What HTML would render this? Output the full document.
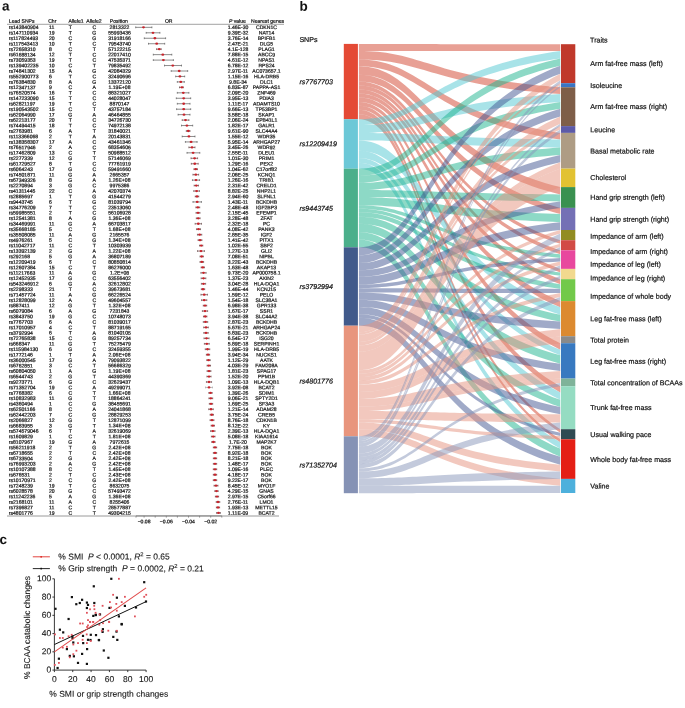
<!DOCTYPE html><html><head><meta charset="utf-8"><style>html,body{margin:0;padding:0;background:#fff;}svg{display:block;will-change:transform}text{font-family:"Liberation Sans", sans-serif;text-rendering:geometricPrecision;}</style></head><body>
<svg width="685" height="708" viewBox="0 0 685 708">
<rect width="685" height="708" fill="#fff"/>
<line x1="7" y1="24.3" x2="284" y2="24.3" stroke="#8a8a8a" stroke-width="0.8"/>
<line x1="7" y1="516.0" x2="279" y2="516.0" stroke="#9a9a9a" stroke-width="1"/>
<line x1="136" y1="515.9" x2="221.8" y2="515.9" stroke="#777" stroke-width="0.8"/>
<line x1="136.00" y1="515.9" x2="136.00" y2="517.7" stroke="#666" stroke-width="0.6"/>
<line x1="221.80" y1="515.9" x2="221.80" y2="517.7" stroke="#666" stroke-width="0.6"/>
<line x1="210.70" y1="515.9" x2="210.70" y2="517.7" stroke="#666" stroke-width="0.6"/>
<line x1="199.60" y1="515.9" x2="199.60" y2="517.7" stroke="#666" stroke-width="0.6"/>
<line x1="188.50" y1="515.9" x2="188.50" y2="517.7" stroke="#666" stroke-width="0.6"/>
<line x1="177.40" y1="515.9" x2="177.40" y2="517.7" stroke="#666" stroke-width="0.6"/>
<line x1="166.30" y1="515.9" x2="166.30" y2="517.7" stroke="#666" stroke-width="0.6"/>
<line x1="155.20" y1="515.9" x2="155.20" y2="517.7" stroke="#666" stroke-width="0.6"/>
<line x1="144.10" y1="515.9" x2="144.10" y2="517.7" stroke="#666" stroke-width="0.6"/>
<g>
<path d="M135.70,27.35H151.90M135.70,26.45V28.25M151.90,26.45V28.25" stroke="#4d4d4d" stroke-width="0.65" fill="none"/>
<ellipse cx="143.50" cy="27.35" rx="1.45" ry="1.15" fill="#c8232b"/>
<path d="M146.20,32.81H159.90M146.20,31.91V33.71M159.90,31.91V33.71" stroke="#4d4d4d" stroke-width="0.65" fill="none"/>
<ellipse cx="153.00" cy="32.81" rx="1.45" ry="1.15" fill="#c8232b"/>
<path d="M144.30,38.26H165.60M144.30,37.36V39.16M165.60,37.36V39.16" stroke="#4d4d4d" stroke-width="0.65" fill="none"/>
<ellipse cx="154.90" cy="38.26" rx="1.45" ry="1.15" fill="#c8232b"/>
<path d="M148.50,43.72H164.70M148.50,42.82V44.62M164.70,42.82V44.62" stroke="#4d4d4d" stroke-width="0.65" fill="none"/>
<ellipse cx="156.70" cy="43.72" rx="1.45" ry="1.15" fill="#c8232b"/>
<path d="M156.60,49.17H161.20M156.60,48.27V50.07M161.20,48.27V50.07" stroke="#5a3838" stroke-width="0.65" fill="none"/>
<ellipse cx="159.20" cy="49.17" rx="1.45" ry="1.15" fill="#c8232b"/>
<path d="M153.30,54.63H171.80M153.30,53.73V55.53M171.80,53.73V55.53" stroke="#4d4d4d" stroke-width="0.65" fill="none"/>
<ellipse cx="162.80" cy="54.63" rx="1.45" ry="1.15" fill="#c8232b"/>
<path d="M153.30,60.09H173.40M153.30,59.19V60.99M173.40,59.19V60.99" stroke="#4d4d4d" stroke-width="0.65" fill="none"/>
<ellipse cx="163.40" cy="60.09" rx="1.45" ry="1.15" fill="#c8232b"/>
<path d="M164.50,65.54H181.50M164.50,64.64V66.44M181.50,64.64V66.44" stroke="#4d4d4d" stroke-width="0.65" fill="none"/>
<ellipse cx="172.80" cy="65.54" rx="1.45" ry="1.15" fill="#c8232b"/>
<path d="M171.20,71.00H187.70M171.20,70.10V71.90M187.70,70.10V71.90" stroke="#4d4d4d" stroke-width="0.65" fill="none"/>
<ellipse cx="179.20" cy="71.00" rx="1.45" ry="1.15" fill="#c8232b"/>
<path d="M175.70,76.45H184.70M175.70,75.55V77.35M184.70,75.55V77.35" stroke="#4d4d4d" stroke-width="0.65" fill="none"/>
<ellipse cx="179.90" cy="76.45" rx="1.45" ry="1.15" fill="#c8232b"/>
<path d="M177.30,81.91H184.30M177.30,81.01V82.81M184.30,81.01V82.81" stroke="#4d4d4d" stroke-width="0.65" fill="none"/>
<ellipse cx="180.80" cy="81.91" rx="1.45" ry="1.15" fill="#c8232b"/>
<path d="M179.50,87.37H183.30M179.50,86.47V88.27M183.30,86.47V88.27" stroke="#5a3838" stroke-width="0.65" fill="none"/>
<ellipse cx="181.90" cy="87.37" rx="1.45" ry="1.15" fill="#c8232b"/>
<path d="M177.30,92.82H188.90M177.30,91.92V93.72M188.90,91.92V93.72" stroke="#4d4d4d" stroke-width="0.65" fill="none"/>
<ellipse cx="183.30" cy="92.82" rx="1.45" ry="1.15" fill="#c8232b"/>
<path d="M176.30,98.28H190.70M176.30,97.38V99.18M190.70,97.38V99.18" stroke="#4d4d4d" stroke-width="0.65" fill="none"/>
<ellipse cx="183.70" cy="98.28" rx="1.45" ry="1.15" fill="#c8232b"/>
<path d="M177.30,103.73H190.00M177.30,102.83V104.63M190.00,102.83V104.63" stroke="#4d4d4d" stroke-width="0.65" fill="none"/>
<ellipse cx="183.70" cy="103.73" rx="1.45" ry="1.15" fill="#c8232b"/>
<path d="M176.60,109.19H190.70M176.60,108.29V110.09M190.70,108.29V110.09" stroke="#4d4d4d" stroke-width="0.65" fill="none"/>
<ellipse cx="183.70" cy="109.19" rx="1.45" ry="1.15" fill="#c8232b"/>
<path d="M178.10,114.65H190.00M178.10,113.75V115.55M190.00,113.75V115.55" stroke="#4d4d4d" stroke-width="0.65" fill="none"/>
<ellipse cx="184.00" cy="114.65" rx="1.45" ry="1.15" fill="#c8232b"/>
<path d="M182.20,120.10H188.90M182.20,119.20V121.00M188.90,119.20V121.00" stroke="#5a3838" stroke-width="0.65" fill="none"/>
<ellipse cx="185.50" cy="120.10" rx="1.45" ry="1.15" fill="#c8232b"/>
<path d="M181.50,125.56H192.70M181.50,124.66V126.46M192.70,124.66V126.46" stroke="#4d4d4d" stroke-width="0.65" fill="none"/>
<ellipse cx="186.90" cy="125.56" rx="1.45" ry="1.15" fill="#c8232b"/>
<path d="M186.30,131.01H190.00M186.30,130.11V131.91M190.00,130.11V131.91" stroke="#5a3838" stroke-width="0.65" fill="none"/>
<ellipse cx="188.30" cy="131.01" rx="1.45" ry="1.15" fill="#c8232b"/>
<path d="M182.20,136.47H195.00M182.20,135.57V137.37M195.00,135.57V137.37" stroke="#4d4d4d" stroke-width="0.65" fill="none"/>
<ellipse cx="188.90" cy="136.47" rx="1.45" ry="1.15" fill="#c8232b"/>
<path d="M185.40,141.93H197.10M185.40,141.03V142.83M197.10,141.03V142.83" stroke="#4d4d4d" stroke-width="0.65" fill="none"/>
<ellipse cx="191.10" cy="141.93" rx="1.45" ry="1.15" fill="#c8232b"/>
<path d="M188.90,147.38H195.00M188.90,146.48V148.28M195.00,146.48V148.28" stroke="#5a3838" stroke-width="0.65" fill="none"/>
<ellipse cx="192.00" cy="147.38" rx="1.45" ry="1.15" fill="#c8232b"/>
<path d="M187.00,152.84H199.80M187.00,151.94V153.74M199.80,151.94V153.74" stroke="#4d4d4d" stroke-width="0.65" fill="none"/>
<ellipse cx="193.10" cy="152.84" rx="1.45" ry="1.15" fill="#c8232b"/>
<path d="M191.00,158.29H197.60M191.00,157.39V159.19M197.60,157.39V159.19" stroke="#5a3838" stroke-width="0.65" fill="none"/>
<ellipse cx="194.60" cy="158.29" rx="1.45" ry="1.15" fill="#c8232b"/>
<path d="M191.30,163.75H198.20M191.30,162.85V164.65M198.20,162.85V164.65" stroke="#5a3838" stroke-width="0.65" fill="none"/>
<ellipse cx="194.80" cy="163.75" rx="1.45" ry="1.15" fill="#c8232b"/>
<path d="M193.92,169.21H197.48M193.92,168.31V170.11M197.48,168.31V170.11" stroke="#5a3838" stroke-width="0.65" fill="none"/>
<ellipse cx="195.70" cy="169.21" rx="1.45" ry="1.15" fill="#c8232b"/>
<path d="M192.95,174.66H198.65M192.95,173.76V175.56M198.65,173.76V175.56" stroke="#5a3838" stroke-width="0.65" fill="none"/>
<ellipse cx="195.80" cy="174.66" rx="1.45" ry="1.15" fill="#c8232b"/>
<path d="M192.43,180.12H199.57M192.43,179.22V181.02M199.57,179.22V181.02" stroke="#4d4d4d" stroke-width="0.65" fill="none"/>
<ellipse cx="196.00" cy="180.12" rx="1.45" ry="1.15" fill="#c8232b"/>
<path d="M194.15,185.57H198.45M194.15,184.67V186.47M198.45,184.67V186.47" stroke="#5a3838" stroke-width="0.65" fill="none"/>
<ellipse cx="196.30" cy="185.57" rx="1.45" ry="1.15" fill="#c8232b"/>
<path d="M193.77,191.03H199.43M193.77,190.13V191.93M199.43,190.13V191.93" stroke="#5a3838" stroke-width="0.65" fill="none"/>
<ellipse cx="196.60" cy="191.03" rx="1.45" ry="1.15" fill="#c8232b"/>
<path d="M195.25,196.49H198.75M195.25,195.59V197.39M198.75,195.59V197.39" stroke="#5a3838" stroke-width="0.65" fill="none"/>
<ellipse cx="197.00" cy="196.49" rx="1.45" ry="1.15" fill="#c8232b"/>
<path d="M192.97,201.94H201.43M192.97,201.04V202.84M201.43,201.04V202.84" stroke="#4d4d4d" stroke-width="0.65" fill="none"/>
<ellipse cx="197.20" cy="201.94" rx="1.45" ry="1.15" fill="#c8232b"/>
<path d="M195.88,207.40H199.72M195.88,206.50V208.30M199.72,206.50V208.30" stroke="#5a3838" stroke-width="0.65" fill="none"/>
<ellipse cx="197.80" cy="207.40" rx="1.45" ry="1.15" fill="#c8232b"/>
<path d="M196.03,212.85H199.97M196.03,211.95V213.75M199.97,211.95V213.75" stroke="#5a3838" stroke-width="0.65" fill="none"/>
<ellipse cx="198.00" cy="212.85" rx="1.45" ry="1.15" fill="#c8232b"/>
<path d="M196.30,218.31H200.10M196.30,217.41V219.21M200.10,217.41V219.21" stroke="#5a3838" stroke-width="0.65" fill="none"/>
<ellipse cx="198.20" cy="218.31" rx="1.45" ry="1.15" fill="#c8232b"/>
<path d="M195.13,223.77H201.47M195.13,222.87V224.67M201.47,222.87V224.67" stroke="#5a3838" stroke-width="0.65" fill="none"/>
<ellipse cx="198.30" cy="223.77" rx="1.45" ry="1.15" fill="#c8232b"/>
<path d="M196.48,229.22H200.52M196.48,228.32V230.12M200.52,228.32V230.12" stroke="#5a3838" stroke-width="0.65" fill="none"/>
<ellipse cx="198.50" cy="229.22" rx="1.45" ry="1.15" fill="#c8232b"/>
<path d="M197.45,234.68H201.75M197.45,233.78V235.58M201.75,233.78V235.58" stroke="#5a3838" stroke-width="0.65" fill="none"/>
<ellipse cx="199.60" cy="234.68" rx="1.45" ry="1.15" fill="#c8232b"/>
<path d="M198.08,240.13H201.92M198.08,239.23V241.03M201.92,239.23V241.03" stroke="#5a3838" stroke-width="0.65" fill="none"/>
<ellipse cx="200.00" cy="240.13" rx="1.45" ry="1.15" fill="#c8232b"/>
<path d="M199.59,245.59H202.81M199.59,244.69V246.49M202.81,244.69V246.49" stroke="#5a3838" stroke-width="0.65" fill="none"/>
<ellipse cx="201.20" cy="245.59" rx="1.45" ry="1.15" fill="#c8232b"/>
<path d="M197.56,251.05H204.44M197.56,250.15V251.95M204.44,250.15V251.95" stroke="#5a3838" stroke-width="0.65" fill="none"/>
<ellipse cx="201.00" cy="251.05" rx="1.45" ry="1.15" fill="#c8232b"/>
<path d="M200.04,256.50H203.36M200.04,255.60V257.40M203.36,255.60V257.40" stroke="#5a3838" stroke-width="0.65" fill="none"/>
<ellipse cx="201.70" cy="256.50" rx="1.45" ry="1.15" fill="#c8232b"/>
<path d="M199.99,261.96H203.61M199.99,261.06V262.86M203.61,261.06V262.86" stroke="#5a3838" stroke-width="0.65" fill="none"/>
<ellipse cx="201.80" cy="261.96" rx="1.45" ry="1.15" fill="#c8232b"/>
<path d="M201.15,267.41H204.45M201.15,266.51V268.31M204.45,266.51V268.31" stroke="#5a3838" stroke-width="0.65" fill="none"/>
<ellipse cx="202.80" cy="267.41" rx="1.45" ry="1.15" fill="#c8232b"/>
<path d="M200.91,272.87H206.09M200.91,271.97V273.77M206.09,271.97V273.77" stroke="#5a3838" stroke-width="0.65" fill="none"/>
<ellipse cx="203.50" cy="272.87" rx="1.45" ry="1.15" fill="#c8232b"/>
<path d="M201.15,278.33H205.85M201.15,277.43V279.23M205.85,277.43V279.23" stroke="#5a3838" stroke-width="0.65" fill="none"/>
<ellipse cx="203.50" cy="278.33" rx="1.45" ry="1.15" fill="#c8232b"/>
<path d="M201.37,283.78H205.63M201.37,282.88V284.68M205.63,282.88V284.68" stroke="#5a3838" stroke-width="0.65" fill="none"/>
<ellipse cx="203.50" cy="283.78" rx="1.45" ry="1.15" fill="#c8232b"/>
<path d="M201.29,289.24H204.71M201.29,288.34V290.14M204.71,288.34V290.14" stroke="#5a3838" stroke-width="0.65" fill="none"/>
<ellipse cx="203.00" cy="289.24" rx="1.45" ry="1.15" fill="#c8232b"/>
<path d="M200.95,294.69H207.45M200.95,293.79V295.59M207.45,293.79V295.59" stroke="#5a3838" stroke-width="0.65" fill="none"/>
<ellipse cx="204.20" cy="294.69" rx="1.45" ry="1.15" fill="#c8232b"/>
<path d="M201.59,300.15H206.81M201.59,299.25V301.05M206.81,299.25V301.05" stroke="#5a3838" stroke-width="0.65" fill="none"/>
<ellipse cx="204.20" cy="300.15" rx="1.45" ry="1.15" fill="#c8232b"/>
<path d="M203.27,305.61H206.73M203.27,304.71V306.51M206.73,304.71V306.51" stroke="#5a3838" stroke-width="0.65" fill="none"/>
<ellipse cx="205.00" cy="305.61" rx="1.45" ry="1.15" fill="#c8232b"/>
<path d="M202.38,311.06H207.62M202.38,310.16V311.96M207.62,310.16V311.96" stroke="#5a3838" stroke-width="0.65" fill="none"/>
<ellipse cx="205.00" cy="311.06" rx="1.45" ry="1.15" fill="#c8232b"/>
<path d="M203.48,316.52H206.92M203.48,315.62V317.42M206.92,315.62V317.42" stroke="#5a3838" stroke-width="0.65" fill="none"/>
<ellipse cx="205.20" cy="316.52" rx="1.45" ry="1.15" fill="#c8232b"/>
<path d="M203.29,321.97H207.71M203.29,321.07V322.87M207.71,321.07V322.87" stroke="#5a3838" stroke-width="0.65" fill="none"/>
<ellipse cx="205.50" cy="321.97" rx="1.45" ry="1.15" fill="#c8232b"/>
<path d="M203.71,327.43H208.29M203.71,326.53V328.33M208.29,326.53V328.33" stroke="#5a3838" stroke-width="0.65" fill="none"/>
<ellipse cx="206.00" cy="327.43" rx="1.45" ry="1.15" fill="#c8232b"/>
<path d="M203.82,332.89H208.18M203.82,331.99V333.79M208.18,331.99V333.79" stroke="#5a3838" stroke-width="0.65" fill="none"/>
<ellipse cx="206.00" cy="332.89" rx="1.45" ry="1.15" fill="#c8232b"/>
<path d="M203.97,338.34H209.03M203.97,337.44V339.24M209.03,337.44V339.24" stroke="#5a3838" stroke-width="0.65" fill="none"/>
<ellipse cx="206.50" cy="338.34" rx="1.45" ry="1.15" fill="#c8232b"/>
<path d="M204.38,343.80H209.22M204.38,342.90V344.70M209.22,342.90V344.70" stroke="#5a3838" stroke-width="0.65" fill="none"/>
<ellipse cx="206.80" cy="343.80" rx="1.45" ry="1.15" fill="#c8232b"/>
<path d="M205.25,349.25H209.75M205.25,348.35V350.15M209.75,348.35V350.15" stroke="#5a3838" stroke-width="0.65" fill="none"/>
<ellipse cx="207.50" cy="349.25" rx="1.45" ry="1.15" fill="#c8232b"/>
<path d="M206.36,354.71H209.64M206.36,353.81V355.61M209.64,353.81V355.61" stroke="#5a3838" stroke-width="0.65" fill="none"/>
<ellipse cx="208.00" cy="354.71" rx="1.45" ry="1.15" fill="#c8232b"/>
<path d="M206.77,360.17H210.23M206.77,359.27V361.07M210.23,359.27V361.07" stroke="#5a3838" stroke-width="0.65" fill="none"/>
<ellipse cx="208.50" cy="360.17" rx="1.45" ry="1.15" fill="#c8232b"/>
<path d="M207.08,365.62H210.52M207.08,364.72V366.52M210.52,364.72V366.52" stroke="#5a3838" stroke-width="0.65" fill="none"/>
<ellipse cx="208.80" cy="365.62" rx="1.45" ry="1.15" fill="#c8232b"/>
<path d="M207.08,371.08H210.92M207.08,370.18V371.98M210.92,370.18V371.98" stroke="#5a3838" stroke-width="0.65" fill="none"/>
<ellipse cx="209.00" cy="371.08" rx="1.45" ry="1.15" fill="#c8232b"/>
<path d="M206.94,376.53H211.06M206.94,375.63V377.43M211.06,375.63V377.43" stroke="#5a3838" stroke-width="0.65" fill="none"/>
<ellipse cx="209.00" cy="376.53" rx="1.45" ry="1.15" fill="#c8232b"/>
<path d="M206.43,381.99H211.57M206.43,381.09V382.89M211.57,381.09V382.89" stroke="#5a3838" stroke-width="0.65" fill="none"/>
<ellipse cx="209.00" cy="381.99" rx="1.45" ry="1.15" fill="#c8232b"/>
<path d="M205.52,387.45H212.48M205.52,386.55V388.35M212.48,386.55V388.35" stroke="#9a9a9a" stroke-width="0.65" fill="none"/>
<ellipse cx="209.00" cy="387.45" rx="1.45" ry="1.15" fill="#c8232b"/>
<path d="M208.82,392.90H212.18M208.82,392.00V393.80M212.18,392.00V393.80" stroke="#5a3838" stroke-width="0.65" fill="none"/>
<ellipse cx="210.50" cy="392.90" rx="1.45" ry="1.15" fill="#c8232b"/>
<path d="M208.91,398.36H212.69M208.91,397.46V399.26M212.69,397.46V399.26" stroke="#5a3838" stroke-width="0.65" fill="none"/>
<ellipse cx="210.80" cy="398.36" rx="1.45" ry="1.15" fill="#c8232b"/>
<path d="M209.32,403.81H212.68M209.32,402.91V404.71M212.68,402.91V404.71" stroke="#5a3838" stroke-width="0.65" fill="none"/>
<ellipse cx="211.00" cy="403.81" rx="1.45" ry="1.15" fill="#c8232b"/>
<path d="M208.73,409.27H213.27M208.73,408.37V410.17M213.27,408.37V410.17" stroke="#5a3838" stroke-width="0.65" fill="none"/>
<ellipse cx="211.00" cy="409.27" rx="1.45" ry="1.15" fill="#c8232b"/>
<path d="M210.13,414.73H213.47M210.13,413.83V415.63M213.47,413.83V415.63" stroke="#5a3838" stroke-width="0.65" fill="none"/>
<ellipse cx="211.80" cy="414.73" rx="1.45" ry="1.15" fill="#c8232b"/>
<path d="M210.05,420.18H213.95M210.05,419.28V421.08M213.95,419.28V421.08" stroke="#5a3838" stroke-width="0.65" fill="none"/>
<ellipse cx="212.00" cy="420.18" rx="1.45" ry="1.15" fill="#c8232b"/>
<path d="M211.12,425.64H214.48M211.12,424.74V426.54M214.48,424.74V426.54" stroke="#5a3838" stroke-width="0.65" fill="none"/>
<ellipse cx="212.80" cy="425.64" rx="1.45" ry="1.15" fill="#c8232b"/>
<path d="M210.60,431.09H215.00M210.60,430.19V431.99M215.00,430.19V431.99" stroke="#5a3838" stroke-width="0.65" fill="none"/>
<ellipse cx="212.80" cy="431.09" rx="1.45" ry="1.15" fill="#c8232b"/>
<path d="M211.38,436.55H215.02M211.38,435.65V437.45M215.02,435.65V437.45" stroke="#5a3838" stroke-width="0.65" fill="none"/>
<ellipse cx="213.20" cy="436.55" rx="1.45" ry="1.15" fill="#c8232b"/>
<path d="M211.72,442.01H215.08M211.72,441.11V442.91M215.08,441.11V442.91" stroke="#5a3838" stroke-width="0.65" fill="none"/>
<ellipse cx="213.40" cy="442.01" rx="1.45" ry="1.15" fill="#c8232b"/>
<path d="M213.34,447.46H216.66M213.34,446.56V448.36M216.66,446.56V448.36" stroke="#5a3838" stroke-width="0.65" fill="none"/>
<ellipse cx="215.00" cy="447.46" rx="1.45" ry="1.15" fill="#c8232b"/>
<path d="M213.33,452.92H216.67M213.33,452.02V453.82M216.67,452.02V453.82" stroke="#5a3838" stroke-width="0.65" fill="none"/>
<ellipse cx="215.00" cy="452.92" rx="1.45" ry="1.15" fill="#c8232b"/>
<path d="M213.33,458.37H216.67M213.33,457.47V459.27M216.67,457.47V459.27" stroke="#5a3838" stroke-width="0.65" fill="none"/>
<ellipse cx="215.00" cy="458.37" rx="1.45" ry="1.15" fill="#c8232b"/>
<path d="M213.32,463.83H216.68M213.32,462.93V464.73M216.68,462.93V464.73" stroke="#5a3838" stroke-width="0.65" fill="none"/>
<ellipse cx="215.00" cy="463.83" rx="1.45" ry="1.15" fill="#c8232b"/>
<path d="M213.27,469.29H216.73M213.27,468.39V470.19M216.73,468.39V470.19" stroke="#5a3838" stroke-width="0.65" fill="none"/>
<ellipse cx="215.00" cy="469.29" rx="1.45" ry="1.15" fill="#c8232b"/>
<path d="M213.30,474.74H216.70M213.30,473.84V475.64M216.70,473.84V475.64" stroke="#5a3838" stroke-width="0.65" fill="none"/>
<ellipse cx="215.00" cy="474.74" rx="1.45" ry="1.15" fill="#c8232b"/>
<path d="M213.28,480.20H216.72M213.28,479.30V481.10M216.72,479.30V481.10" stroke="#5a3838" stroke-width="0.65" fill="none"/>
<ellipse cx="215.00" cy="480.20" rx="1.45" ry="1.15" fill="#c8232b"/>
<path d="M214.02,485.65H217.98M214.02,484.75V486.55M217.98,484.75V486.55" stroke="#5a3838" stroke-width="0.65" fill="none"/>
<ellipse cx="216.00" cy="485.65" rx="1.45" ry="1.15" fill="#c8232b"/>
<path d="M214.83,491.11H218.17M214.83,490.21V492.01M218.17,490.21V492.01" stroke="#5a3838" stroke-width="0.65" fill="none"/>
<ellipse cx="216.50" cy="491.11" rx="1.45" ry="1.15" fill="#c8232b"/>
<path d="M215.39,496.57H218.61M215.39,495.67V497.47M218.61,495.67V497.47" stroke="#5a3838" stroke-width="0.65" fill="none"/>
<ellipse cx="217.00" cy="496.57" rx="1.45" ry="1.15" fill="#c8232b"/>
<path d="M216.21,502.02H219.79M216.21,501.12V502.92M219.79,501.12V502.92" stroke="#5a3838" stroke-width="0.65" fill="none"/>
<ellipse cx="218.00" cy="502.02" rx="1.45" ry="1.15" fill="#c8232b"/>
<path d="M216.38,507.48H219.62M216.38,506.58V508.38M219.62,506.58V508.38" stroke="#5a3838" stroke-width="0.65" fill="none"/>
<ellipse cx="218.00" cy="507.48" rx="1.45" ry="1.15" fill="#c8232b"/>
<path d="M216.61,512.93H220.39M216.61,512.03V513.83M220.39,512.03V513.83" stroke="#5a3838" stroke-width="0.65" fill="none"/>
<ellipse cx="218.50" cy="512.93" rx="1.45" ry="1.15" fill="#c8232b"/>
</g>
<g fill-opacity="0.5">
<path d="M358.9,43.90C423.3,43.90 431.4,44.12 560.3,44.20L560.3,51.10C431.4,51.07 423.3,51.00 358.9,51.00Z" fill="#D1412B"/>
<path d="M358.9,51.00C423.3,51.00 431.4,77.86 560.3,87.30L560.3,93.90C431.4,84.96 423.3,59.50 358.9,59.50Z" fill="#D1412B"/>
<path d="M358.9,59.50C423.3,59.50 431.4,113.82 560.3,132.90L560.3,139.60C431.4,120.54 423.3,66.30 358.9,66.30Z" fill="#D1412B"/>
<path d="M358.9,66.30C423.3,66.30 431.4,155.69 560.3,187.10L560.3,194.40C431.4,163.30 423.3,74.80 358.9,74.80Z" fill="#D1412B"/>
<path d="M358.9,74.80C423.3,74.80 431.4,173.29 560.3,207.90L560.3,214.10C431.4,179.62 423.3,81.50 358.9,81.50Z" fill="#D1412B"/>
<path d="M358.9,81.50C423.3,81.50 431.4,198.94 560.3,240.20L560.3,243.80C431.4,202.64 423.3,85.50 358.9,85.50Z" fill="#D1412B"/>
<path d="M358.9,85.50C423.3,85.50 431.4,207.45 560.3,250.30L560.3,254.30C431.4,211.45 423.3,89.50 358.9,89.50Z" fill="#D1412B"/>
<path d="M358.9,89.50C423.3,89.50 431.4,222.26 560.3,268.90L560.3,272.40C431.4,225.86 423.3,93.40 358.9,93.40Z" fill="#D1412B"/>
<path d="M358.9,93.40C423.3,93.40 431.4,230.89 560.3,279.20L560.3,284.30C431.4,235.71 423.3,97.40 358.9,97.40Z" fill="#D1412B"/>
<path d="M358.9,97.40C423.3,97.40 431.4,248.14 560.3,301.10L560.3,307.32C431.4,253.91 423.3,101.90 358.9,101.90Z" fill="#D1412B"/>
<path d="M358.9,101.90C423.3,101.90 431.4,280.46 560.3,343.20L560.3,349.80C431.4,286.36 423.3,105.80 358.9,105.80Z" fill="#D1412B"/>
<path d="M358.9,105.80C423.3,105.80 431.4,313.30 560.3,386.20L560.3,392.40C431.4,318.92 423.3,109.80 358.9,109.80Z" fill="#D1412B"/>
<path d="M358.9,109.80C423.3,109.80 431.4,346.16 560.3,429.20L560.3,432.70C431.4,349.92 423.3,114.30 358.9,114.30Z" fill="#D1412B"/>
<path d="M358.9,114.30C423.3,114.30 431.4,354.80 560.3,439.30L560.3,442.19C431.4,358.21 423.3,119.20 358.9,119.20Z" fill="#D1412B"/>
<path d="M358.9,119.20C423.3,119.20 431.4,68.81 560.3,51.10L560.3,58.50C431.4,75.82 423.3,125.10 358.9,125.10Z" fill="#51C7D1"/>
<path d="M358.9,125.10C423.3,125.10 431.4,102.01 560.3,93.90L560.3,101.90C431.4,109.99 423.3,133.00 358.9,133.00Z" fill="#51C7D1"/>
<path d="M358.9,133.00C423.3,133.00 431.4,137.88 560.3,139.60L560.3,147.60C431.4,145.75 423.3,140.50 358.9,140.50Z" fill="#51C7D1"/>
<path d="M358.9,140.50C423.3,140.50 431.4,263.95 560.3,307.32L560.3,314.64C431.4,272.04 423.3,150.80 358.9,150.80Z" fill="#51C7D1"/>
<path d="M358.9,150.80C423.3,150.80 431.4,298.06 560.3,349.80L560.3,355.30C431.4,303.98 423.3,157.90 358.9,157.90Z" fill="#51C7D1"/>
<path d="M358.9,157.90C423.3,157.90 431.4,331.43 560.3,392.40L560.3,399.70C431.4,338.08 423.3,162.70 358.9,162.70Z" fill="#51C7D1"/>
<path d="M358.9,162.70C423.3,162.70 431.4,369.52 560.3,442.19L560.3,448.78C431.4,375.96 423.3,168.70 358.9,168.70Z" fill="#51C7D1"/>
<path d="M358.9,168.70C423.3,168.70 431.4,87.15 560.3,58.50L560.3,65.70C431.4,94.35 423.3,175.90 358.9,175.90Z" fill="#1BB38D"/>
<path d="M358.9,175.90C423.3,175.90 431.4,121.14 560.3,101.90L560.3,108.80C431.4,128.04 423.3,182.80 358.9,182.80Z" fill="#1BB38D"/>
<path d="M358.9,182.80C423.3,182.80 431.4,156.75 560.3,147.60L560.3,154.90C431.4,164.05 423.3,190.10 358.9,190.10Z" fill="#1BB38D"/>
<path d="M358.9,190.10C423.3,190.10 431.4,193.28 560.3,194.40L560.3,201.40C431.4,200.28 423.3,197.10 358.9,197.10Z" fill="#1BB38D"/>
<path d="M358.9,197.10C423.3,197.10 431.4,209.68 560.3,214.10L560.3,222.20C431.4,217.78 423.3,205.20 358.9,205.20Z" fill="#1BB38D"/>
<path d="M358.9,205.20C423.3,205.20 431.4,241.53 560.3,254.30L560.3,257.90C431.4,245.13 423.3,208.80 358.9,208.80Z" fill="#1BB38D"/>
<path d="M358.9,208.80C423.3,208.80 431.4,255.86 560.3,272.40L560.3,275.80C431.4,259.26 423.3,212.20 358.9,212.20Z" fill="#1BB38D"/>
<path d="M358.9,212.20C423.3,212.20 431.4,265.55 560.3,284.30L560.3,288.90C431.4,270.15 423.3,216.80 358.9,216.80Z" fill="#1BB38D"/>
<path d="M358.9,216.80C423.3,216.80 431.4,289.20 560.3,314.64L560.3,321.56C431.4,296.12 423.3,223.70 358.9,223.70Z" fill="#1BB38D"/>
<path d="M358.9,223.70C423.3,223.70 431.4,321.08 560.3,355.30L560.3,363.70C431.4,329.48 423.3,232.10 358.9,232.10Z" fill="#1BB38D"/>
<path d="M358.9,232.10C423.3,232.10 431.4,356.12 560.3,399.70L560.3,407.00C431.4,363.42 423.3,239.40 358.9,239.40Z" fill="#1BB38D"/>
<path d="M358.9,239.40C423.3,239.40 431.4,394.34 560.3,448.78L560.3,456.66C431.4,402.22 423.3,247.30 358.9,247.30Z" fill="#1BB38D"/>
<path d="M358.9,247.30C423.3,247.30 431.4,112.92 560.3,65.70L560.3,73.70C431.4,120.92 423.3,255.30 358.9,255.30Z" fill="#415591"/>
<path d="M358.9,255.30C423.3,255.30 431.4,146.89 560.3,108.80L560.3,116.50C431.4,154.59 423.3,263.00 358.9,263.00Z" fill="#415591"/>
<path d="M358.9,263.00C423.3,263.00 431.4,183.01 560.3,154.90L560.3,162.20C431.4,190.31 423.3,270.30 358.9,270.30Z" fill="#415591"/>
<path d="M358.9,270.30C423.3,270.30 431.4,219.31 560.3,201.40L560.3,207.90C431.4,225.81 423.3,276.80 358.9,276.80Z" fill="#415591"/>
<path d="M358.9,276.80C423.3,276.80 431.4,236.40 560.3,222.20L560.3,230.00C431.4,244.20 423.3,284.60 358.9,284.60Z" fill="#415591"/>
<path d="M358.9,284.60C423.3,284.60 431.4,264.84 560.3,257.90L560.3,261.50C431.4,268.44 423.3,288.20 358.9,288.20Z" fill="#415591"/>
<path d="M358.9,288.20C423.3,288.20 431.4,288.72 560.3,288.90L560.3,293.10C431.4,292.92 423.3,292.40 358.9,292.40Z" fill="#415591"/>
<path d="M358.9,292.40C423.3,292.40 431.4,313.98 560.3,321.56L560.3,328.88C431.4,321.29 423.3,299.70 358.9,299.70Z" fill="#415591"/>
<path d="M358.9,299.70C423.3,299.70 431.4,347.06 560.3,363.70L560.3,371.00C431.4,354.36 423.3,307.00 358.9,307.00Z" fill="#415591"/>
<path d="M358.9,307.00C423.3,307.00 431.4,381.00 560.3,407.00L560.3,414.30C431.4,388.30 423.3,314.30 358.9,314.30Z" fill="#415591"/>
<path d="M358.9,314.30C423.3,314.30 431.4,401.92 560.3,432.70L560.3,436.10C431.4,405.32 423.3,317.70 358.9,317.70Z" fill="#415591"/>
<path d="M358.9,317.70C423.3,317.70 431.4,420.53 560.3,456.66L560.3,464.64C431.4,428.51 423.3,325.70 358.9,325.70Z" fill="#415591"/>
<path d="M358.9,325.70C423.3,325.70 431.4,139.22 560.3,73.70L560.3,80.30C431.4,145.82 423.3,332.30 358.9,332.30Z" fill="#E5917D"/>
<path d="M358.9,332.30C423.3,332.30 431.4,147.97 560.3,83.20L560.3,85.60C431.4,150.37 423.3,334.70 358.9,334.70Z" fill="#E5917D"/>
<path d="M358.9,334.70C423.3,334.70 431.4,173.23 560.3,116.50L560.3,123.80C431.4,180.53 423.3,342.00 358.9,342.00Z" fill="#E5917D"/>
<path d="M358.9,342.00C423.3,342.00 431.4,182.23 560.3,126.10L560.3,129.50C431.4,185.63 423.3,345.40 358.9,345.40Z" fill="#E5917D"/>
<path d="M358.9,345.40C423.3,345.40 431.4,209.83 560.3,162.20L560.3,168.60C431.4,216.23 423.3,351.80 358.9,351.80Z" fill="#E5917D"/>
<path d="M358.9,351.80C423.3,351.80 431.4,216.23 560.3,168.60L560.3,187.10C431.4,234.73 423.3,370.30 358.9,370.30Z" fill="#E5917D"/>
<path d="M358.9,370.30C423.3,370.30 431.4,266.48 560.3,230.00L560.3,233.50C431.4,269.98 423.3,373.80 358.9,373.80Z" fill="#E5917D"/>
<path d="M358.9,373.80C423.3,373.80 431.4,277.60 560.3,243.80L560.3,247.10C431.4,280.90 423.3,377.10 358.9,377.10Z" fill="#E5917D"/>
<path d="M358.9,377.10C423.3,377.10 431.4,291.56 560.3,261.50L560.3,265.20C431.4,295.26 423.3,380.80 358.9,380.80Z" fill="#E5917D"/>
<path d="M358.9,380.80C423.3,380.80 431.4,315.90 560.3,293.10L560.3,296.90C431.4,319.70 423.3,384.60 358.9,384.60Z" fill="#E5917D"/>
<path d="M358.9,384.60C423.3,384.60 431.4,343.37 560.3,328.88L560.3,336.20C431.4,350.68 423.3,391.90 358.9,391.90Z" fill="#E5917D"/>
<path d="M358.9,391.90C423.3,391.90 431.4,350.68 560.3,336.20L560.3,343.20C431.4,357.68 423.3,398.90 358.9,398.90Z" fill="#E5917D"/>
<path d="M358.9,398.90C423.3,398.90 431.4,378.25 560.3,371.00L560.3,378.60C431.4,385.85 423.3,406.50 358.9,406.50Z" fill="#E5917D"/>
<path d="M358.9,406.50C423.3,406.50 431.4,385.85 560.3,378.60L560.3,383.10C431.4,390.35 423.3,411.00 358.9,411.00Z" fill="#E5917D"/>
<path d="M358.9,411.00C423.3,411.00 431.4,413.44 560.3,414.30L560.3,422.60C431.4,421.74 423.3,419.30 358.9,419.30Z" fill="#E5917D"/>
<path d="M358.9,419.30C423.3,419.30 431.4,431.73 560.3,436.10L560.3,439.30C431.4,434.93 423.3,422.50 358.9,422.50Z" fill="#E5917D"/>
<path d="M358.9,422.50C423.3,422.50 431.4,453.68 560.3,464.64L560.3,471.52C431.4,460.57 423.3,429.40 358.9,429.40Z" fill="#E5917D"/>
<path d="M358.9,429.40C423.3,429.40 431.4,466.03 560.3,478.90L560.3,485.80C431.4,472.93 423.3,436.30 358.9,436.30Z" fill="#E5917D"/>
<path d="M358.9,436.30C423.3,436.30 431.4,172.86 560.3,80.30L560.3,83.20C431.4,175.77 423.3,439.26 358.9,439.26Z" fill="#8795B9"/>
<path d="M358.9,439.26C423.3,439.26 431.4,177.55 560.3,85.60L560.3,87.30C431.4,179.26 423.3,440.99 358.9,440.99Z" fill="#8795B9"/>
<path d="M358.9,440.99C423.3,440.99 431.4,206.27 560.3,123.80L560.3,126.10C431.4,208.58 423.3,443.34 358.9,443.34Z" fill="#8795B9"/>
<path d="M358.9,443.34C423.3,443.34 431.4,211.10 560.3,129.50L560.3,132.90C431.4,214.51 423.3,446.80 358.9,446.80Z" fill="#8795B9"/>
<path d="M358.9,446.80C423.3,446.80 431.4,288.96 560.3,233.50L560.3,240.20C431.4,295.69 423.3,453.64 358.9,453.64Z" fill="#8795B9"/>
<path d="M358.9,453.64C423.3,453.64 431.4,300.80 560.3,247.10L560.3,250.30C431.4,304.02 423.3,456.90 358.9,456.90Z" fill="#8795B9"/>
<path d="M358.9,456.90C423.3,456.90 431.4,315.04 560.3,265.20L560.3,268.90C431.4,318.76 423.3,460.67 358.9,460.67Z" fill="#8795B9"/>
<path d="M358.9,460.67C423.3,460.67 431.4,323.87 560.3,275.80L560.3,279.20C431.4,327.28 423.3,464.14 358.9,464.14Z" fill="#8795B9"/>
<path d="M358.9,464.14C423.3,464.14 431.4,340.38 560.3,296.90L560.3,301.10C431.4,344.60 423.3,468.42 358.9,468.42Z" fill="#8795B9"/>
<path d="M358.9,468.42C423.3,468.42 431.4,405.28 560.3,383.10L560.3,386.20C431.4,408.40 423.3,471.58 358.9,471.58Z" fill="#8795B9"/>
<path d="M358.9,471.58C423.3,471.58 431.4,435.34 560.3,422.60L560.3,429.20C431.4,441.97 423.3,478.31 358.9,478.31Z" fill="#8795B9"/>
<path d="M358.9,478.31C423.3,478.31 431.4,473.28 560.3,471.52L560.3,478.90C431.4,480.71 423.3,485.86 358.9,485.86Z" fill="#8795B9"/>
<path d="M358.9,485.86C423.3,485.86 431.4,485.82 560.3,485.80L560.3,493.00C431.4,493.05 423.3,493.20 358.9,493.20Z" fill="#8795B9"/>
</g>
<rect x="343.8" y="43.9" width="14.1" height="75.30" fill="#E44A35"/>
<rect x="343.8" y="119.2" width="14.1" height="49.50" fill="#6CC8D7"/>
<rect x="343.8" y="168.7" width="14.1" height="78.60" fill="#4BAF8B"/>
<rect x="343.8" y="247.3" width="14.1" height="78.40" fill="#415A8B"/>
<rect x="343.8" y="325.7" width="14.1" height="110.60" fill="#E8957D"/>
<rect x="343.8" y="436.3" width="14.1" height="56.90" fill="#8592B5"/>
<rect x="561.0" y="44.2" width="14.3" height="39.00" fill="#C0392B"/>
<rect x="561.0" y="83.2" width="14.3" height="4.10" fill="#3A75C4"/>
<rect x="561.0" y="87.3" width="14.3" height="38.80" fill="#7E5E48"/>
<rect x="561.0" y="126.1" width="14.3" height="6.80" fill="#5C5AA8"/>
<rect x="561.0" y="132.9" width="14.3" height="35.70" fill="#AE9C84"/>
<rect x="561.0" y="168.6" width="14.3" height="18.50" fill="#E2C232"/>
<rect x="561.0" y="187.1" width="14.3" height="20.80" fill="#3A9150"/>
<rect x="561.0" y="207.9" width="14.3" height="22.10" fill="#7470B5"/>
<rect x="561.0" y="230.0" width="14.3" height="10.20" fill="#928C22"/>
<rect x="561.0" y="240.2" width="14.3" height="10.10" fill="#D24B45"/>
<rect x="561.0" y="250.3" width="14.3" height="18.60" fill="#E8489E"/>
<rect x="561.0" y="268.9" width="14.3" height="10.30" fill="#F2D98E"/>
<rect x="561.0" y="279.2" width="14.3" height="21.90" fill="#72C94A"/>
<rect x="561.0" y="301.1" width="14.3" height="35.10" fill="#DC8A30"/>
<rect x="561.0" y="336.2" width="14.3" height="7.00" fill="#8A8A8A"/>
<rect x="561.0" y="343.2" width="14.3" height="35.40" fill="#3879C0"/>
<rect x="561.0" y="378.6" width="14.3" height="7.60" fill="#7FB399"/>
<rect x="561.0" y="386.2" width="14.3" height="43.00" fill="#95DCC2"/>
<rect x="561.0" y="429.2" width="14.3" height="10.10" fill="#2F4A52"/>
<rect x="561.0" y="439.3" width="14.3" height="39.60" fill="#E41F15"/>
<rect x="561.0" y="478.9" width="14.3" height="14.10" fill="#4DB0DC"/>
<line x1="32.8" y1="556.8" x2="49.9" y2="556.8" stroke="#e0302a" stroke-width="0.9"/>
<rect x="40.4" y="556.0" width="1.6" height="1.6" fill="#e0302a"/>
<line x1="32.8" y1="568.6" x2="49.9" y2="568.6" stroke="#111" stroke-width="0.9"/>
<rect x="40.4" y="567.8" width="1.6" height="1.6" fill="#111"/>
<path d="M54.4,578.8 L54.4,670.1 L146.1,670.1" fill="none" stroke="#222" stroke-width="0.9"/>
<line x1="52.4" y1="670.10" x2="54.4" y2="670.10" stroke="#222" stroke-width="0.9"/>
<line x1="54.40" y1="670.1" x2="54.40" y2="672.1" stroke="#222" stroke-width="0.9"/>
<line x1="52.4" y1="651.84" x2="54.4" y2="651.84" stroke="#222" stroke-width="0.9"/>
<line x1="72.74" y1="670.1" x2="72.74" y2="672.1" stroke="#222" stroke-width="0.9"/>
<line x1="52.4" y1="633.58" x2="54.4" y2="633.58" stroke="#222" stroke-width="0.9"/>
<line x1="91.08" y1="670.1" x2="91.08" y2="672.1" stroke="#222" stroke-width="0.9"/>
<line x1="52.4" y1="615.32" x2="54.4" y2="615.32" stroke="#222" stroke-width="0.9"/>
<line x1="109.42" y1="670.1" x2="109.42" y2="672.1" stroke="#222" stroke-width="0.9"/>
<line x1="52.4" y1="597.06" x2="54.4" y2="597.06" stroke="#222" stroke-width="0.9"/>
<line x1="127.76" y1="670.1" x2="127.76" y2="672.1" stroke="#222" stroke-width="0.9"/>
<line x1="52.4" y1="578.80" x2="54.4" y2="578.80" stroke="#222" stroke-width="0.9"/>
<line x1="146.10" y1="670.1" x2="146.10" y2="672.1" stroke="#222" stroke-width="0.9"/>
<text transform="translate(30.3,627.5) rotate(-90)" text-anchor="middle" font-size="8.5" fill="#1a1a1a" stroke="#1a1a1a" stroke-width="0.12">% BCAA catabolic changes</text>
<rect x="92.70" y="585.20" width="2.2" height="2.2" fill="#111"/>
<rect x="70.80" y="596.00" width="2.2" height="2.2" fill="#111"/>
<rect x="81.00" y="598.70" width="2.2" height="2.2" fill="#111"/>
<rect x="78.70" y="601.90" width="2.2" height="2.2" fill="#111"/>
<rect x="75.20" y="603.10" width="2.2" height="2.2" fill="#111"/>
<rect x="85.80" y="601.50" width="2.2" height="2.2" fill="#111"/>
<rect x="86.90" y="603.80" width="2.2" height="2.2" fill="#111"/>
<rect x="85.80" y="606.90" width="2.2" height="2.2" fill="#111"/>
<rect x="93.20" y="601.90" width="2.2" height="2.2" fill="#111"/>
<rect x="54.40" y="607.70" width="2.2" height="2.2" fill="#111"/>
<rect x="67.50" y="617.90" width="2.2" height="2.2" fill="#111"/>
<rect x="92.20" y="614.80" width="2.2" height="2.2" fill="#111"/>
<rect x="94.70" y="614.00" width="2.2" height="2.2" fill="#111"/>
<rect x="110.20" y="577.70" width="2.2" height="2.2" fill="#111"/>
<rect x="143.10" y="581.10" width="2.2" height="2.2" fill="#111"/>
<rect x="115.80" y="596.60" width="2.2" height="2.2" fill="#111"/>
<rect x="123.80" y="604.80" width="2.2" height="2.2" fill="#111"/>
<rect x="108.40" y="606.80" width="2.2" height="2.2" fill="#111"/>
<rect x="134.90" y="606.40" width="2.2" height="2.2" fill="#111"/>
<rect x="144.90" y="600.40" width="2.2" height="2.2" fill="#111"/>
<rect x="98.90" y="613.30" width="2.2" height="2.2" fill="#111"/>
<rect x="117.80" y="615.30" width="2.2" height="2.2" fill="#111"/>
<rect x="120.60" y="622.90" width="2.2" height="2.2" fill="#111"/>
<rect x="94.70" y="613.70" width="2.2" height="2.2" fill="#111"/>
<rect x="58.80" y="628.60" width="2.2" height="2.2" fill="#111"/>
<rect x="62.10" y="631.30" width="2.2" height="2.2" fill="#111"/>
<rect x="71.30" y="635.20" width="2.2" height="2.2" fill="#111"/>
<rect x="71.40" y="637.10" width="2.2" height="2.2" fill="#111"/>
<rect x="81.90" y="634.80" width="2.2" height="2.2" fill="#111"/>
<rect x="89.70" y="633.70" width="2.2" height="2.2" fill="#111"/>
<rect x="94.90" y="634.00" width="2.2" height="2.2" fill="#111"/>
<rect x="86.90" y="638.70" width="2.2" height="2.2" fill="#111"/>
<rect x="89.40" y="638.90" width="2.2" height="2.2" fill="#111"/>
<rect x="97.80" y="638.90" width="2.2" height="2.2" fill="#111"/>
<rect x="82.10" y="642.00" width="2.2" height="2.2" fill="#111"/>
<rect x="72.20" y="641.40" width="2.2" height="2.2" fill="#111"/>
<rect x="65.80" y="648.00" width="2.2" height="2.2" fill="#111"/>
<rect x="86.00" y="648.00" width="2.2" height="2.2" fill="#111"/>
<rect x="81.00" y="652.80" width="2.2" height="2.2" fill="#111"/>
<rect x="68.70" y="654.80" width="2.2" height="2.2" fill="#111"/>
<rect x="72.80" y="655.20" width="2.2" height="2.2" fill="#111"/>
<rect x="57.80" y="657.60" width="2.2" height="2.2" fill="#111"/>
<rect x="76.90" y="661.80" width="2.2" height="2.2" fill="#111"/>
<rect x="85.80" y="662.80" width="2.2" height="2.2" fill="#111"/>
<rect x="56.50" y="666.90" width="2.2" height="2.2" fill="#111"/>
<rect x="120.60" y="623.30" width="2.2" height="2.2" fill="#111"/>
<rect x="101.80" y="628.10" width="2.2" height="2.2" fill="#111"/>
<rect x="101.50" y="630.80" width="2.2" height="2.2" fill="#111"/>
<rect x="115.40" y="630.50" width="2.2" height="2.2" fill="#111"/>
<rect x="112.20" y="635.80" width="2.2" height="2.2" fill="#111"/>
<rect x="97.90" y="639.00" width="2.2" height="2.2" fill="#111"/>
<rect x="116.20" y="638.80" width="2.2" height="2.2" fill="#111"/>
<rect x="102.70" y="649.40" width="2.2" height="2.2" fill="#111"/>
<rect x="107.30" y="656.70" width="2.2" height="2.2" fill="#111"/>
<rect x="89.10" y="608.40" width="1.8" height="1.8" fill="#e0505a"/>
<rect x="93.50" y="608.30" width="1.8" height="1.8" fill="#e0505a"/>
<rect x="93.30" y="604.90" width="1.8" height="1.8" fill="#e0505a"/>
<rect x="86.00" y="611.90" width="1.8" height="1.8" fill="#e0505a"/>
<rect x="94.70" y="611.90" width="1.8" height="1.8" fill="#e0505a"/>
<rect x="87.10" y="619.20" width="1.8" height="1.8" fill="#e0505a"/>
<rect x="89.10" y="621.00" width="1.8" height="1.8" fill="#e0505a"/>
<rect x="92.40" y="621.00" width="1.8" height="1.8" fill="#e0505a"/>
<rect x="79.20" y="622.60" width="1.8" height="1.8" fill="#e0505a"/>
<rect x="81.80" y="622.60" width="1.8" height="1.8" fill="#e0505a"/>
<rect x="98.60" y="613.50" width="1.8" height="1.8" fill="#e0505a"/>
<rect x="118.00" y="577.90" width="1.8" height="1.8" fill="#e0505a"/>
<rect x="112.20" y="593.90" width="1.8" height="1.8" fill="#e0505a"/>
<rect x="124.00" y="595.90" width="1.8" height="1.8" fill="#e0505a"/>
<rect x="143.30" y="595.90" width="1.8" height="1.8" fill="#e0505a"/>
<rect x="145.30" y="593.90" width="1.8" height="1.8" fill="#e0505a"/>
<rect x="109.00" y="601.20" width="1.8" height="1.8" fill="#e0505a"/>
<rect x="115.40" y="603.00" width="1.8" height="1.8" fill="#e0505a"/>
<rect x="120.80" y="601.20" width="1.8" height="1.8" fill="#e0505a"/>
<rect x="101.70" y="604.90" width="1.8" height="1.8" fill="#e0505a"/>
<rect x="110.20" y="606.60" width="1.8" height="1.8" fill="#e0505a"/>
<rect x="115.90" y="609.80" width="1.8" height="1.8" fill="#e0505a"/>
<rect x="134.00" y="615.50" width="1.8" height="1.8" fill="#e0505a"/>
<rect x="108.30" y="621.10" width="1.8" height="1.8" fill="#e0505a"/>
<rect x="99.30" y="619.10" width="1.8" height="1.8" fill="#e0505a"/>
<rect x="102.10" y="622.30" width="1.8" height="1.8" fill="#e0505a"/>
<rect x="87.10" y="624.50" width="1.8" height="1.8" fill="#e0505a"/>
<rect x="86.20" y="626.10" width="1.8" height="1.8" fill="#e0505a"/>
<rect x="89.30" y="621.10" width="1.8" height="1.8" fill="#e0505a"/>
<rect x="92.20" y="621.10" width="1.8" height="1.8" fill="#e0505a"/>
<rect x="98.40" y="623.80" width="1.8" height="1.8" fill="#e0505a"/>
<rect x="67.70" y="635.40" width="1.8" height="1.8" fill="#e0505a"/>
<rect x="70.80" y="633.90" width="1.8" height="1.8" fill="#e0505a"/>
<rect x="59.00" y="637.10" width="1.8" height="1.8" fill="#e0505a"/>
<rect x="61.90" y="637.10" width="1.8" height="1.8" fill="#e0505a"/>
<rect x="85.80" y="633.50" width="1.8" height="1.8" fill="#e0505a"/>
<rect x="81.70" y="638.90" width="1.8" height="1.8" fill="#e0505a"/>
<rect x="89.90" y="640.10" width="1.8" height="1.8" fill="#e0505a"/>
<rect x="77.10" y="642.20" width="1.8" height="1.8" fill="#e0505a"/>
<rect x="86.00" y="642.20" width="1.8" height="1.8" fill="#e0505a"/>
<rect x="72.40" y="643.60" width="1.8" height="1.8" fill="#e0505a"/>
<rect x="66.00" y="645.90" width="1.8" height="1.8" fill="#e0505a"/>
<rect x="61.90" y="646.70" width="1.8" height="1.8" fill="#e0505a"/>
<rect x="75.50" y="649.80" width="1.8" height="1.8" fill="#e0505a"/>
<rect x="72.40" y="653.30" width="1.8" height="1.8" fill="#e0505a"/>
<rect x="68.90" y="656.40" width="1.8" height="1.8" fill="#e0505a"/>
<rect x="58.00" y="662.00" width="1.8" height="1.8" fill="#e0505a"/>
<rect x="53.90" y="664.00" width="1.8" height="1.8" fill="#e0505a"/>
<rect x="54.10" y="633.50" width="1.8" height="1.8" fill="#e0505a"/>
<rect x="108.10" y="620.90" width="1.8" height="1.8" fill="#e0505a"/>
<rect x="107.40" y="629.80" width="1.8" height="1.8" fill="#e0505a"/>
<rect x="100.90" y="629.90" width="1.8" height="1.8" fill="#e0505a"/>
<rect x="115.90" y="629.90" width="1.8" height="1.8" fill="#e0505a"/>
<line x1="54.40" y1="644.54" x2="146.10" y2="601.62" stroke="#111" stroke-width="1.0"/>
<line x1="54.40" y1="651.84" x2="146.10" y2="587.93" stroke="#e04848" stroke-width="1.05"/>
<g transform="skewY(0.05)">
<text x="2.00" y="10.60" font-size="13.5" font-weight="bold" fill="#111">a</text>
<text x="8.80" y="22.79" font-size="5.1" fill="#222" stroke="#222" stroke-width="0.24">Lead SNPs</text>
<text x="48.20" y="22.76" font-size="5.1" fill="#222" stroke="#222" stroke-width="0.24">Chr</text>
<text x="68.40" y="22.74" font-size="5.1" fill="#222" stroke="#222" stroke-width="0.24">Allele1</text>
<text x="86.30" y="22.72" font-size="5.1" fill="#222" stroke="#222" stroke-width="0.24">Allele2</text>
<text x="109.80" y="22.70" font-size="5.1" fill="#222" stroke="#222" stroke-width="0.24">Position</text>
<text x="168.70" y="22.65" text-anchor="middle" font-size="5.1" fill="#222" stroke="#222" stroke-width="0.24">OR</text>
<text x="228.90" y="22.60" font-size="5.1" fill="#222" stroke="#222" stroke-width="0.24"><tspan font-style="italic">P</tspan> value</text>
<text x="251.00" y="22.58" font-size="5.1" fill="#222" stroke="#222" stroke-width="0.24">Nearest genes</text>
<text x="8.80" y="29.09" font-size="5.1" fill="#222" stroke="#222" stroke-width="0.24">rs143840904</text>
<text x="49.00" y="29.06" font-size="5.1" fill="#222" stroke="#222" stroke-width="0.24">11</text>
<text x="70.30" y="29.04" text-anchor="middle" font-size="5.1" fill="#222" stroke="#222" stroke-width="0.24">T</text>
<text x="94.30" y="29.02" text-anchor="middle" font-size="5.1" fill="#222" stroke="#222" stroke-width="0.24">C</text>
<text x="119.50" y="29.00" text-anchor="middle" font-size="5.1" fill="#222" stroke="#222" stroke-width="0.24">2813322</text>
<text x="238.00" y="28.89" text-anchor="middle" font-size="5.1" fill="#222" stroke="#222" stroke-width="0.24">1.46E-30</text>
<text x="266.50" y="28.87" text-anchor="middle" font-size="5.1" fill="#222" stroke="#222" stroke-width="0.24">CDKN1C</text>
<text x="8.80" y="34.55" font-size="5.1" fill="#222" stroke="#222" stroke-width="0.24">rs147110934</text>
<text x="49.00" y="34.51" font-size="5.1" fill="#222" stroke="#222" stroke-width="0.24">19</text>
<text x="70.30" y="34.49" text-anchor="middle" font-size="5.1" fill="#222" stroke="#222" stroke-width="0.24">T</text>
<text x="94.30" y="34.47" text-anchor="middle" font-size="5.1" fill="#222" stroke="#222" stroke-width="0.24">G</text>
<text x="119.50" y="34.45" text-anchor="middle" font-size="5.1" fill="#222" stroke="#222" stroke-width="0.24">55993436</text>
<text x="238.00" y="34.35" text-anchor="middle" font-size="5.1" fill="#222" stroke="#222" stroke-width="0.24">9.39E-32</text>
<text x="266.50" y="34.32" text-anchor="middle" font-size="5.1" fill="#222" stroke="#222" stroke-width="0.24">NAT14</text>
<text x="8.80" y="40.00" font-size="5.1" fill="#222" stroke="#222" stroke-width="0.24">rs117824493</text>
<text x="49.00" y="39.97" font-size="5.1" fill="#222" stroke="#222" stroke-width="0.24">20</text>
<text x="70.30" y="39.95" text-anchor="middle" font-size="5.1" fill="#222" stroke="#222" stroke-width="0.24">C</text>
<text x="94.30" y="39.93" text-anchor="middle" font-size="5.1" fill="#222" stroke="#222" stroke-width="0.24">G</text>
<text x="119.50" y="39.91" text-anchor="middle" font-size="5.1" fill="#222" stroke="#222" stroke-width="0.24">31918166</text>
<text x="238.00" y="39.80" text-anchor="middle" font-size="5.1" fill="#222" stroke="#222" stroke-width="0.24">3.76E-14</text>
<text x="266.50" y="39.78" text-anchor="middle" font-size="5.1" fill="#222" stroke="#222" stroke-width="0.24">BPIFB1</text>
<text x="8.80" y="45.46" font-size="5.1" fill="#222" stroke="#222" stroke-width="0.24">rs117543413</text>
<text x="49.00" y="45.43" font-size="5.1" fill="#222" stroke="#222" stroke-width="0.24">10</text>
<text x="70.30" y="45.41" text-anchor="middle" font-size="5.1" fill="#222" stroke="#222" stroke-width="0.24">T</text>
<text x="94.30" y="45.39" text-anchor="middle" font-size="5.1" fill="#222" stroke="#222" stroke-width="0.24">C</text>
<text x="119.50" y="45.36" text-anchor="middle" font-size="5.1" fill="#222" stroke="#222" stroke-width="0.24">79543740</text>
<text x="238.00" y="45.26" text-anchor="middle" font-size="5.1" fill="#222" stroke="#222" stroke-width="0.24">2.47E-21</text>
<text x="266.50" y="45.24" text-anchor="middle" font-size="5.1" fill="#222" stroke="#222" stroke-width="0.24">DLG5</text>
<text x="8.80" y="50.92" font-size="5.1" fill="#222" stroke="#222" stroke-width="0.24">rs72658310</text>
<text x="49.00" y="50.88" font-size="5.1" fill="#222" stroke="#222" stroke-width="0.24">8</text>
<text x="70.30" y="50.86" text-anchor="middle" font-size="5.1" fill="#222" stroke="#222" stroke-width="0.24">C</text>
<text x="94.30" y="50.84" text-anchor="middle" font-size="5.1" fill="#222" stroke="#222" stroke-width="0.24">T</text>
<text x="119.50" y="50.82" text-anchor="middle" font-size="5.1" fill="#222" stroke="#222" stroke-width="0.24">57122215</text>
<text x="238.00" y="50.72" text-anchor="middle" font-size="5.1" fill="#222" stroke="#222" stroke-width="0.24">4.1E-128</text>
<text x="266.50" y="50.69" text-anchor="middle" font-size="5.1" fill="#222" stroke="#222" stroke-width="0.24">PLAG1</text>
<text x="8.80" y="56.37" font-size="5.1" fill="#222" stroke="#222" stroke-width="0.24">rs61688134</text>
<text x="49.00" y="56.34" font-size="5.1" fill="#222" stroke="#222" stroke-width="0.24">12</text>
<text x="70.30" y="56.32" text-anchor="middle" font-size="5.1" fill="#222" stroke="#222" stroke-width="0.24">T</text>
<text x="94.30" y="56.30" text-anchor="middle" font-size="5.1" fill="#222" stroke="#222" stroke-width="0.24">C</text>
<text x="119.50" y="56.28" text-anchor="middle" font-size="5.1" fill="#222" stroke="#222" stroke-width="0.24">22017410</text>
<text x="238.00" y="56.17" text-anchor="middle" font-size="5.1" fill="#222" stroke="#222" stroke-width="0.24">7.88E-15</text>
<text x="266.50" y="56.15" text-anchor="middle" font-size="5.1" fill="#222" stroke="#222" stroke-width="0.24">ABCC9</text>
<text x="8.80" y="61.83" font-size="5.1" fill="#222" stroke="#222" stroke-width="0.24">rs73059353</text>
<text x="49.00" y="61.79" font-size="5.1" fill="#222" stroke="#222" stroke-width="0.24">19</text>
<text x="70.30" y="61.77" text-anchor="middle" font-size="5.1" fill="#222" stroke="#222" stroke-width="0.24">T</text>
<text x="94.30" y="61.75" text-anchor="middle" font-size="5.1" fill="#222" stroke="#222" stroke-width="0.24">C</text>
<text x="119.50" y="61.73" text-anchor="middle" font-size="5.1" fill="#222" stroke="#222" stroke-width="0.24">47535371</text>
<text x="238.00" y="61.63" text-anchor="middle" font-size="5.1" fill="#222" stroke="#222" stroke-width="0.24">4.61E-12</text>
<text x="266.50" y="61.60" text-anchor="middle" font-size="5.1" fill="#222" stroke="#222" stroke-width="0.24">NPAS1</text>
<text x="8.80" y="67.28" font-size="5.1" fill="#222" stroke="#222" stroke-width="0.24">rs139402235</text>
<text x="49.00" y="67.25" font-size="5.1" fill="#222" stroke="#222" stroke-width="0.24">10</text>
<text x="70.30" y="67.23" text-anchor="middle" font-size="5.1" fill="#222" stroke="#222" stroke-width="0.24">C</text>
<text x="94.30" y="67.21" text-anchor="middle" font-size="5.1" fill="#222" stroke="#222" stroke-width="0.24">T</text>
<text x="119.50" y="67.19" text-anchor="middle" font-size="5.1" fill="#222" stroke="#222" stroke-width="0.24">79835492</text>
<text x="238.00" y="67.08" text-anchor="middle" font-size="5.1" fill="#222" stroke="#222" stroke-width="0.24">6.78E-12</text>
<text x="266.50" y="67.06" text-anchor="middle" font-size="5.1" fill="#222" stroke="#222" stroke-width="0.24">RPS24</text>
<text x="8.80" y="72.74" font-size="5.1" fill="#222" stroke="#222" stroke-width="0.24">rs74841302</text>
<text x="49.00" y="72.71" font-size="5.1" fill="#222" stroke="#222" stroke-width="0.24">15</text>
<text x="70.30" y="72.69" text-anchor="middle" font-size="5.1" fill="#222" stroke="#222" stroke-width="0.24">A</text>
<text x="94.30" y="72.67" text-anchor="middle" font-size="5.1" fill="#222" stroke="#222" stroke-width="0.24">G</text>
<text x="119.50" y="72.64" text-anchor="middle" font-size="5.1" fill="#222" stroke="#222" stroke-width="0.24">42084329</text>
<text x="238.00" y="72.54" text-anchor="middle" font-size="5.1" fill="#222" stroke="#222" stroke-width="0.24">2.97E-11</text>
<text x="266.50" y="72.52" text-anchor="middle" font-size="5.1" fill="#222" stroke="#222" stroke-width="0.24">AC073657.1</text>
<text x="8.80" y="78.20" font-size="5.1" fill="#222" stroke="#222" stroke-width="0.24">rs552900773</text>
<text x="49.00" y="78.16" font-size="5.1" fill="#222" stroke="#222" stroke-width="0.24">6</text>
<text x="70.30" y="78.14" text-anchor="middle" font-size="5.1" fill="#222" stroke="#222" stroke-width="0.24">T</text>
<text x="94.30" y="78.12" text-anchor="middle" font-size="5.1" fill="#222" stroke="#222" stroke-width="0.24">C</text>
<text x="119.50" y="78.10" text-anchor="middle" font-size="5.1" fill="#222" stroke="#222" stroke-width="0.24">32490696</text>
<text x="238.00" y="78.00" text-anchor="middle" font-size="5.1" fill="#222" stroke="#222" stroke-width="0.24">1.15E-16</text>
<text x="266.50" y="77.97" text-anchor="middle" font-size="5.1" fill="#222" stroke="#222" stroke-width="0.24">HLA-DRB5</text>
<text x="8.80" y="83.65" font-size="5.1" fill="#222" stroke="#222" stroke-width="0.24">rs76384830</text>
<text x="49.00" y="83.62" font-size="5.1" fill="#222" stroke="#222" stroke-width="0.24">8</text>
<text x="70.30" y="83.60" text-anchor="middle" font-size="5.1" fill="#222" stroke="#222" stroke-width="0.24">A</text>
<text x="94.30" y="83.58" text-anchor="middle" font-size="5.1" fill="#222" stroke="#222" stroke-width="0.24">G</text>
<text x="119.50" y="83.56" text-anchor="middle" font-size="5.1" fill="#222" stroke="#222" stroke-width="0.24">13372120</text>
<text x="238.00" y="83.45" text-anchor="middle" font-size="5.1" fill="#222" stroke="#222" stroke-width="0.24">9.8E-34</text>
<text x="266.50" y="83.43" text-anchor="middle" font-size="5.1" fill="#222" stroke="#222" stroke-width="0.24">DLC1</text>
<text x="8.80" y="89.11" font-size="5.1" fill="#222" stroke="#222" stroke-width="0.24">rs12347137</text>
<text x="49.00" y="89.07" font-size="5.1" fill="#222" stroke="#222" stroke-width="0.24">9</text>
<text x="70.30" y="89.05" text-anchor="middle" font-size="5.1" fill="#222" stroke="#222" stroke-width="0.24">C</text>
<text x="94.30" y="89.03" text-anchor="middle" font-size="5.1" fill="#222" stroke="#222" stroke-width="0.24">A</text>
<text x="119.50" y="89.01" text-anchor="middle" font-size="5.1" fill="#222" stroke="#222" stroke-width="0.24">1.19E+08</text>
<text x="238.00" y="88.91" text-anchor="middle" font-size="5.1" fill="#222" stroke="#222" stroke-width="0.24">6.83E-87</text>
<text x="266.50" y="88.88" text-anchor="middle" font-size="5.1" fill="#222" stroke="#222" stroke-width="0.24">PAPPA-AS1</text>
<text x="8.80" y="94.56" font-size="5.1" fill="#222" stroke="#222" stroke-width="0.24">rs76520574</text>
<text x="49.00" y="94.53" font-size="5.1" fill="#222" stroke="#222" stroke-width="0.24">16</text>
<text x="70.30" y="94.51" text-anchor="middle" font-size="5.1" fill="#222" stroke="#222" stroke-width="0.24">T</text>
<text x="94.30" y="94.49" text-anchor="middle" font-size="5.1" fill="#222" stroke="#222" stroke-width="0.24">C</text>
<text x="119.50" y="94.47" text-anchor="middle" font-size="5.1" fill="#222" stroke="#222" stroke-width="0.24">88321027</text>
<text x="238.00" y="94.36" text-anchor="middle" font-size="5.1" fill="#222" stroke="#222" stroke-width="0.24">2.09E-20</text>
<text x="266.50" y="94.34" text-anchor="middle" font-size="5.1" fill="#222" stroke="#222" stroke-width="0.24">ZNF469</text>
<text x="8.80" y="100.02" font-size="5.1" fill="#222" stroke="#222" stroke-width="0.24">rs147233090</text>
<text x="49.00" y="99.99" font-size="5.1" fill="#222" stroke="#222" stroke-width="0.24">15</text>
<text x="70.30" y="99.97" text-anchor="middle" font-size="5.1" fill="#222" stroke="#222" stroke-width="0.24">T</text>
<text x="94.30" y="99.95" text-anchor="middle" font-size="5.1" fill="#222" stroke="#222" stroke-width="0.24">C</text>
<text x="119.50" y="99.92" text-anchor="middle" font-size="5.1" fill="#222" stroke="#222" stroke-width="0.24">44028047</text>
<text x="238.00" y="99.82" text-anchor="middle" font-size="5.1" fill="#222" stroke="#222" stroke-width="0.24">3.95E-13</text>
<text x="266.50" y="99.80" text-anchor="middle" font-size="5.1" fill="#222" stroke="#222" stroke-width="0.24">PDIA3</text>
<text x="8.80" y="105.48" font-size="5.1" fill="#222" stroke="#222" stroke-width="0.24">rs62821197</text>
<text x="49.00" y="105.44" font-size="5.1" fill="#222" stroke="#222" stroke-width="0.24">19</text>
<text x="70.30" y="105.42" text-anchor="middle" font-size="5.1" fill="#222" stroke="#222" stroke-width="0.24">T</text>
<text x="94.30" y="105.40" text-anchor="middle" font-size="5.1" fill="#222" stroke="#222" stroke-width="0.24">C</text>
<text x="119.50" y="105.38" text-anchor="middle" font-size="5.1" fill="#222" stroke="#222" stroke-width="0.24">8870147</text>
<text x="238.00" y="105.28" text-anchor="middle" font-size="5.1" fill="#222" stroke="#222" stroke-width="0.24">1.11E-17</text>
<text x="266.50" y="105.25" text-anchor="middle" font-size="5.1" fill="#222" stroke="#222" stroke-width="0.24">ADAMTS10</text>
<text x="8.80" y="110.93" font-size="5.1" fill="#222" stroke="#222" stroke-width="0.24">rs190543502</text>
<text x="49.00" y="110.90" font-size="5.1" fill="#222" stroke="#222" stroke-width="0.24">15</text>
<text x="70.30" y="110.88" text-anchor="middle" font-size="5.1" fill="#222" stroke="#222" stroke-width="0.24">C</text>
<text x="94.30" y="110.86" text-anchor="middle" font-size="5.1" fill="#222" stroke="#222" stroke-width="0.24">T</text>
<text x="119.50" y="110.84" text-anchor="middle" font-size="5.1" fill="#222" stroke="#222" stroke-width="0.24">43757184</text>
<text x="238.00" y="110.73" text-anchor="middle" font-size="5.1" fill="#222" stroke="#222" stroke-width="0.24">9.66E-13</text>
<text x="266.50" y="110.71" text-anchor="middle" font-size="5.1" fill="#222" stroke="#222" stroke-width="0.24">TP53BP1</text>
<text x="8.80" y="116.39" font-size="5.1" fill="#222" stroke="#222" stroke-width="0.24">rs62064990</text>
<text x="49.00" y="116.35" font-size="5.1" fill="#222" stroke="#222" stroke-width="0.24">17</text>
<text x="70.30" y="116.33" text-anchor="middle" font-size="5.1" fill="#222" stroke="#222" stroke-width="0.24">G</text>
<text x="94.30" y="116.31" text-anchor="middle" font-size="5.1" fill="#222" stroke="#222" stroke-width="0.24">A</text>
<text x="119.50" y="116.29" text-anchor="middle" font-size="5.1" fill="#222" stroke="#222" stroke-width="0.24">46464855</text>
<text x="238.00" y="116.19" text-anchor="middle" font-size="5.1" fill="#222" stroke="#222" stroke-width="0.24">3.58E-18</text>
<text x="266.50" y="116.16" text-anchor="middle" font-size="5.1" fill="#222" stroke="#222" stroke-width="0.24">SKAP1</text>
<text x="8.80" y="121.84" font-size="5.1" fill="#222" stroke="#222" stroke-width="0.24">rs62213177</text>
<text x="49.00" y="121.81" font-size="5.1" fill="#222" stroke="#222" stroke-width="0.24">20</text>
<text x="70.30" y="121.79" text-anchor="middle" font-size="5.1" fill="#222" stroke="#222" stroke-width="0.24">T</text>
<text x="94.30" y="121.77" text-anchor="middle" font-size="5.1" fill="#222" stroke="#222" stroke-width="0.24">C</text>
<text x="119.50" y="121.75" text-anchor="middle" font-size="5.1" fill="#222" stroke="#222" stroke-width="0.24">34726730</text>
<text x="238.00" y="121.64" text-anchor="middle" font-size="5.1" fill="#222" stroke="#222" stroke-width="0.24">2.06E-24</text>
<text x="266.50" y="121.62" text-anchor="middle" font-size="5.1" fill="#222" stroke="#222" stroke-width="0.24">EPB41L1</text>
<text x="8.80" y="127.30" font-size="5.1" fill="#222" stroke="#222" stroke-width="0.24">rs74494415</text>
<text x="49.00" y="127.27" font-size="5.1" fill="#222" stroke="#222" stroke-width="0.24">18</text>
<text x="70.30" y="127.25" text-anchor="middle" font-size="5.1" fill="#222" stroke="#222" stroke-width="0.24">T</text>
<text x="94.30" y="127.23" text-anchor="middle" font-size="5.1" fill="#222" stroke="#222" stroke-width="0.24">C</text>
<text x="119.50" y="127.20" text-anchor="middle" font-size="5.1" fill="#222" stroke="#222" stroke-width="0.24">74972138</text>
<text x="238.00" y="127.10" text-anchor="middle" font-size="5.1" fill="#222" stroke="#222" stroke-width="0.24">1.82E-17</text>
<text x="266.50" y="127.08" text-anchor="middle" font-size="5.1" fill="#222" stroke="#222" stroke-width="0.24">GALR1</text>
<text x="8.80" y="132.76" font-size="5.1" fill="#222" stroke="#222" stroke-width="0.24">rs2763981</text>
<text x="49.00" y="132.72" font-size="5.1" fill="#222" stroke="#222" stroke-width="0.24">6</text>
<text x="70.30" y="132.70" text-anchor="middle" font-size="5.1" fill="#222" stroke="#222" stroke-width="0.24">A</text>
<text x="94.30" y="132.68" text-anchor="middle" font-size="5.1" fill="#222" stroke="#222" stroke-width="0.24">T</text>
<text x="119.50" y="132.66" text-anchor="middle" font-size="5.1" fill="#222" stroke="#222" stroke-width="0.24">31840021</text>
<text x="238.00" y="132.56" text-anchor="middle" font-size="5.1" fill="#222" stroke="#222" stroke-width="0.24">9.61E-90</text>
<text x="266.50" y="132.53" text-anchor="middle" font-size="5.1" fill="#222" stroke="#222" stroke-width="0.24">SLC44A4</text>
<text x="8.80" y="138.21" font-size="5.1" fill="#222" stroke="#222" stroke-width="0.24">rs113366068</text>
<text x="49.00" y="138.18" font-size="5.1" fill="#222" stroke="#222" stroke-width="0.24">2</text>
<text x="70.30" y="138.16" text-anchor="middle" font-size="5.1" fill="#222" stroke="#222" stroke-width="0.24">T</text>
<text x="94.30" y="138.14" text-anchor="middle" font-size="5.1" fill="#222" stroke="#222" stroke-width="0.24">A</text>
<text x="119.50" y="138.12" text-anchor="middle" font-size="5.1" fill="#222" stroke="#222" stroke-width="0.24">20143831</text>
<text x="238.00" y="138.01" text-anchor="middle" font-size="5.1" fill="#222" stroke="#222" stroke-width="0.24">1.55E-12</text>
<text x="266.50" y="137.99" text-anchor="middle" font-size="5.1" fill="#222" stroke="#222" stroke-width="0.24">WDR35</text>
<text x="8.80" y="143.67" font-size="5.1" fill="#222" stroke="#222" stroke-width="0.24">rs138358307</text>
<text x="49.00" y="143.63" font-size="5.1" fill="#222" stroke="#222" stroke-width="0.24">17</text>
<text x="70.30" y="143.61" text-anchor="middle" font-size="5.1" fill="#222" stroke="#222" stroke-width="0.24">A</text>
<text x="94.30" y="143.59" text-anchor="middle" font-size="5.1" fill="#222" stroke="#222" stroke-width="0.24">C</text>
<text x="119.50" y="143.57" text-anchor="middle" font-size="5.1" fill="#222" stroke="#222" stroke-width="0.24">43461346</text>
<text x="238.00" y="143.47" text-anchor="middle" font-size="5.1" fill="#222" stroke="#222" stroke-width="0.24">5.95E-14</text>
<text x="266.50" y="143.44" text-anchor="middle" font-size="5.1" fill="#222" stroke="#222" stroke-width="0.24">ARHGAP27</text>
<text x="8.80" y="149.12" font-size="5.1" fill="#222" stroke="#222" stroke-width="0.24">rs76517946</text>
<text x="49.00" y="149.09" font-size="5.1" fill="#222" stroke="#222" stroke-width="0.24">2</text>
<text x="70.30" y="149.07" text-anchor="middle" font-size="5.1" fill="#222" stroke="#222" stroke-width="0.24">A</text>
<text x="94.30" y="149.05" text-anchor="middle" font-size="5.1" fill="#222" stroke="#222" stroke-width="0.24">C</text>
<text x="119.50" y="149.03" text-anchor="middle" font-size="5.1" fill="#222" stroke="#222" stroke-width="0.24">68354606</text>
<text x="238.00" y="148.92" text-anchor="middle" font-size="5.1" fill="#222" stroke="#222" stroke-width="0.24">3.45E-26</text>
<text x="266.50" y="148.90" text-anchor="middle" font-size="5.1" fill="#222" stroke="#222" stroke-width="0.24">WDR92</text>
<text x="8.80" y="154.58" font-size="5.1" fill="#222" stroke="#222" stroke-width="0.24">rs17462809</text>
<text x="49.00" y="154.55" font-size="5.1" fill="#222" stroke="#222" stroke-width="0.24">13</text>
<text x="70.30" y="154.53" text-anchor="middle" font-size="5.1" fill="#222" stroke="#222" stroke-width="0.24">C</text>
<text x="94.30" y="154.51" text-anchor="middle" font-size="5.1" fill="#222" stroke="#222" stroke-width="0.24">T</text>
<text x="119.50" y="154.48" text-anchor="middle" font-size="5.1" fill="#222" stroke="#222" stroke-width="0.24">50988512</text>
<text x="238.00" y="154.38" text-anchor="middle" font-size="5.1" fill="#222" stroke="#222" stroke-width="0.24">2.55E-11</text>
<text x="266.50" y="154.36" text-anchor="middle" font-size="5.1" fill="#222" stroke="#222" stroke-width="0.24">DLEU1</text>
<text x="8.80" y="160.04" font-size="5.1" fill="#222" stroke="#222" stroke-width="0.24">rs2277339</text>
<text x="49.00" y="160.00" font-size="5.1" fill="#222" stroke="#222" stroke-width="0.24">12</text>
<text x="70.30" y="159.98" text-anchor="middle" font-size="5.1" fill="#222" stroke="#222" stroke-width="0.24">G</text>
<text x="94.30" y="159.96" text-anchor="middle" font-size="5.1" fill="#222" stroke="#222" stroke-width="0.24">T</text>
<text x="119.50" y="159.94" text-anchor="middle" font-size="5.1" fill="#222" stroke="#222" stroke-width="0.24">57146069</text>
<text x="238.00" y="159.84" text-anchor="middle" font-size="5.1" fill="#222" stroke="#222" stroke-width="0.24">1.01E-30</text>
<text x="266.50" y="159.81" text-anchor="middle" font-size="5.1" fill="#222" stroke="#222" stroke-width="0.24">PRIM1</text>
<text x="8.80" y="165.49" font-size="5.1" fill="#222" stroke="#222" stroke-width="0.24">rs61729527</text>
<text x="49.00" y="165.46" font-size="5.1" fill="#222" stroke="#222" stroke-width="0.24">8</text>
<text x="70.30" y="165.44" text-anchor="middle" font-size="5.1" fill="#222" stroke="#222" stroke-width="0.24">T</text>
<text x="94.30" y="165.42" text-anchor="middle" font-size="5.1" fill="#222" stroke="#222" stroke-width="0.24">C</text>
<text x="119.50" y="165.40" text-anchor="middle" font-size="5.1" fill="#222" stroke="#222" stroke-width="0.24">77761919</text>
<text x="238.00" y="165.29" text-anchor="middle" font-size="5.1" fill="#222" stroke="#222" stroke-width="0.24">1.29E-16</text>
<text x="266.50" y="165.27" text-anchor="middle" font-size="5.1" fill="#222" stroke="#222" stroke-width="0.24">PEX2</text>
<text x="8.80" y="170.95" font-size="5.1" fill="#222" stroke="#222" stroke-width="0.24">rs6064243</text>
<text x="49.00" y="170.91" font-size="5.1" fill="#222" stroke="#222" stroke-width="0.24">17</text>
<text x="70.30" y="170.89" text-anchor="middle" font-size="5.1" fill="#222" stroke="#222" stroke-width="0.24">G</text>
<text x="94.30" y="170.87" text-anchor="middle" font-size="5.1" fill="#222" stroke="#222" stroke-width="0.24">C</text>
<text x="119.50" y="170.85" text-anchor="middle" font-size="5.1" fill="#222" stroke="#222" stroke-width="0.24">59491660</text>
<text x="238.00" y="170.75" text-anchor="middle" font-size="5.1" fill="#222" stroke="#222" stroke-width="0.24">1.04E-62</text>
<text x="266.50" y="170.72" text-anchor="middle" font-size="5.1" fill="#222" stroke="#222" stroke-width="0.24">C17orf82</text>
<text x="8.80" y="176.40" font-size="5.1" fill="#222" stroke="#222" stroke-width="0.24">rs74501871</text>
<text x="49.00" y="176.37" font-size="5.1" fill="#222" stroke="#222" stroke-width="0.24">11</text>
<text x="70.30" y="176.35" text-anchor="middle" font-size="5.1" fill="#222" stroke="#222" stroke-width="0.24">G</text>
<text x="94.30" y="176.33" text-anchor="middle" font-size="5.1" fill="#222" stroke="#222" stroke-width="0.24">A</text>
<text x="119.50" y="176.31" text-anchor="middle" font-size="5.1" fill="#222" stroke="#222" stroke-width="0.24">2665357</text>
<text x="238.00" y="176.20" text-anchor="middle" font-size="5.1" fill="#222" stroke="#222" stroke-width="0.24">2.06E-25</text>
<text x="266.50" y="176.18" text-anchor="middle" font-size="5.1" fill="#222" stroke="#222" stroke-width="0.24">KCNQ1</text>
<text x="8.80" y="181.86" font-size="5.1" fill="#222" stroke="#222" stroke-width="0.24">rs67349326</text>
<text x="49.00" y="181.83" font-size="5.1" fill="#222" stroke="#222" stroke-width="0.24">8</text>
<text x="70.30" y="181.81" text-anchor="middle" font-size="5.1" fill="#222" stroke="#222" stroke-width="0.24">G</text>
<text x="94.30" y="181.79" text-anchor="middle" font-size="5.1" fill="#222" stroke="#222" stroke-width="0.24">A</text>
<text x="119.50" y="181.76" text-anchor="middle" font-size="5.1" fill="#222" stroke="#222" stroke-width="0.24">1.26E+08</text>
<text x="238.00" y="181.66" text-anchor="middle" font-size="5.1" fill="#222" stroke="#222" stroke-width="0.24">1.26E-16</text>
<text x="266.50" y="181.64" text-anchor="middle" font-size="5.1" fill="#222" stroke="#222" stroke-width="0.24">TRIB1</text>
<text x="8.80" y="187.32" font-size="5.1" fill="#222" stroke="#222" stroke-width="0.24">rs2270894</text>
<text x="49.00" y="187.28" font-size="5.1" fill="#222" stroke="#222" stroke-width="0.24">3</text>
<text x="70.30" y="187.26" text-anchor="middle" font-size="5.1" fill="#222" stroke="#222" stroke-width="0.24">G</text>
<text x="94.30" y="187.24" text-anchor="middle" font-size="5.1" fill="#222" stroke="#222" stroke-width="0.24">C</text>
<text x="119.50" y="187.22" text-anchor="middle" font-size="5.1" fill="#222" stroke="#222" stroke-width="0.24">9975386</text>
<text x="238.00" y="187.12" text-anchor="middle" font-size="5.1" fill="#222" stroke="#222" stroke-width="0.24">2.31E-42</text>
<text x="266.50" y="187.09" text-anchor="middle" font-size="5.1" fill="#222" stroke="#222" stroke-width="0.24">CRELD1</text>
<text x="8.80" y="192.77" font-size="5.1" fill="#222" stroke="#222" stroke-width="0.24">rs41311445</text>
<text x="49.00" y="192.74" font-size="5.1" fill="#222" stroke="#222" stroke-width="0.24">22</text>
<text x="70.30" y="192.72" text-anchor="middle" font-size="5.1" fill="#222" stroke="#222" stroke-width="0.24">C</text>
<text x="94.30" y="192.70" text-anchor="middle" font-size="5.1" fill="#222" stroke="#222" stroke-width="0.24">A</text>
<text x="119.50" y="192.68" text-anchor="middle" font-size="5.1" fill="#222" stroke="#222" stroke-width="0.24">42070374</text>
<text x="238.00" y="192.57" text-anchor="middle" font-size="5.1" fill="#222" stroke="#222" stroke-width="0.24">8.82E-25</text>
<text x="266.50" y="192.55" text-anchor="middle" font-size="5.1" fill="#222" stroke="#222" stroke-width="0.24">NHP2L1</text>
<text x="8.80" y="198.23" font-size="5.1" fill="#222" stroke="#222" stroke-width="0.24">rs2885697</text>
<text x="49.00" y="198.19" font-size="5.1" fill="#222" stroke="#222" stroke-width="0.24">1</text>
<text x="70.30" y="198.17" text-anchor="middle" font-size="5.1" fill="#222" stroke="#222" stroke-width="0.24">T</text>
<text x="94.30" y="198.15" text-anchor="middle" font-size="5.1" fill="#222" stroke="#222" stroke-width="0.24">G</text>
<text x="119.50" y="198.13" text-anchor="middle" font-size="5.1" fill="#222" stroke="#222" stroke-width="0.24">41544279</text>
<text x="238.00" y="198.03" text-anchor="middle" font-size="5.1" fill="#222" stroke="#222" stroke-width="0.24">2.94E-60</text>
<text x="266.50" y="198.00" text-anchor="middle" font-size="5.1" fill="#222" stroke="#222" stroke-width="0.24">SLFNL1</text>
<text x="8.80" y="203.68" font-size="5.1" fill="#222" stroke="#222" stroke-width="0.24">rs9443745</text>
<text x="49.00" y="203.65" font-size="5.1" fill="#222" stroke="#222" stroke-width="0.24">6</text>
<text x="70.30" y="203.63" text-anchor="middle" font-size="5.1" fill="#222" stroke="#222" stroke-width="0.24">T</text>
<text x="94.30" y="203.61" text-anchor="middle" font-size="5.1" fill="#222" stroke="#222" stroke-width="0.24">G</text>
<text x="119.50" y="203.59" text-anchor="middle" font-size="5.1" fill="#222" stroke="#222" stroke-width="0.24">81039794</text>
<text x="238.00" y="203.48" text-anchor="middle" font-size="5.1" fill="#222" stroke="#222" stroke-width="0.24">1.43E-11</text>
<text x="266.50" y="203.46" text-anchor="middle" font-size="5.1" fill="#222" stroke="#222" stroke-width="0.24">BCKDHB</text>
<text x="8.80" y="209.14" font-size="5.1" fill="#222" stroke="#222" stroke-width="0.24">rs34776209</text>
<text x="49.00" y="209.11" font-size="5.1" fill="#222" stroke="#222" stroke-width="0.24">7</text>
<text x="70.30" y="209.09" text-anchor="middle" font-size="5.1" fill="#222" stroke="#222" stroke-width="0.24">T</text>
<text x="94.30" y="209.07" text-anchor="middle" font-size="5.1" fill="#222" stroke="#222" stroke-width="0.24">C</text>
<text x="119.50" y="209.04" text-anchor="middle" font-size="5.1" fill="#222" stroke="#222" stroke-width="0.24">23513060</text>
<text x="238.00" y="208.94" text-anchor="middle" font-size="5.1" fill="#222" stroke="#222" stroke-width="0.24">2.48E-48</text>
<text x="266.50" y="208.92" text-anchor="middle" font-size="5.1" fill="#222" stroke="#222" stroke-width="0.24">IGF2BP3</text>
<text x="8.80" y="214.60" font-size="5.1" fill="#222" stroke="#222" stroke-width="0.24">rs59985551</text>
<text x="49.00" y="214.56" font-size="5.1" fill="#222" stroke="#222" stroke-width="0.24">2</text>
<text x="70.30" y="214.54" text-anchor="middle" font-size="5.1" fill="#222" stroke="#222" stroke-width="0.24">T</text>
<text x="94.30" y="214.52" text-anchor="middle" font-size="5.1" fill="#222" stroke="#222" stroke-width="0.24">C</text>
<text x="119.50" y="214.50" text-anchor="middle" font-size="5.1" fill="#222" stroke="#222" stroke-width="0.24">56106928</text>
<text x="238.00" y="214.40" text-anchor="middle" font-size="5.1" fill="#222" stroke="#222" stroke-width="0.24">2.15E-45</text>
<text x="266.50" y="214.37" text-anchor="middle" font-size="5.1" fill="#222" stroke="#222" stroke-width="0.24">EFEMP1</text>
<text x="8.80" y="220.05" font-size="5.1" fill="#222" stroke="#222" stroke-width="0.24">rs12541381</text>
<text x="49.00" y="220.02" font-size="5.1" fill="#222" stroke="#222" stroke-width="0.24">8</text>
<text x="70.30" y="220.00" text-anchor="middle" font-size="5.1" fill="#222" stroke="#222" stroke-width="0.24">A</text>
<text x="94.30" y="219.98" text-anchor="middle" font-size="5.1" fill="#222" stroke="#222" stroke-width="0.24">G</text>
<text x="119.50" y="219.96" text-anchor="middle" font-size="5.1" fill="#222" stroke="#222" stroke-width="0.24">1.36E+08</text>
<text x="238.00" y="219.85" text-anchor="middle" font-size="5.1" fill="#222" stroke="#222" stroke-width="0.24">3.28E-48</text>
<text x="266.50" y="219.83" text-anchor="middle" font-size="5.1" fill="#222" stroke="#222" stroke-width="0.24">ZFAT</text>
<text x="8.80" y="225.51" font-size="5.1" fill="#222" stroke="#222" stroke-width="0.24">rs34469991</text>
<text x="49.00" y="225.47" font-size="5.1" fill="#222" stroke="#222" stroke-width="0.24">11</text>
<text x="70.30" y="225.45" text-anchor="middle" font-size="5.1" fill="#222" stroke="#222" stroke-width="0.24">G</text>
<text x="94.30" y="225.43" text-anchor="middle" font-size="5.1" fill="#222" stroke="#222" stroke-width="0.24">A</text>
<text x="119.50" y="225.41" text-anchor="middle" font-size="5.1" fill="#222" stroke="#222" stroke-width="0.24">66703817</text>
<text x="238.00" y="225.31" text-anchor="middle" font-size="5.1" fill="#222" stroke="#222" stroke-width="0.24">2.32E-18</text>
<text x="266.50" y="225.28" text-anchor="middle" font-size="5.1" fill="#222" stroke="#222" stroke-width="0.24">PC</text>
<text x="8.80" y="230.96" font-size="5.1" fill="#222" stroke="#222" stroke-width="0.24">rs35668185</text>
<text x="49.00" y="230.93" font-size="5.1" fill="#222" stroke="#222" stroke-width="0.24">5</text>
<text x="70.30" y="230.91" text-anchor="middle" font-size="5.1" fill="#222" stroke="#222" stroke-width="0.24">C</text>
<text x="94.30" y="230.89" text-anchor="middle" font-size="5.1" fill="#222" stroke="#222" stroke-width="0.24">T</text>
<text x="119.50" y="230.87" text-anchor="middle" font-size="5.1" fill="#222" stroke="#222" stroke-width="0.24">1.68E+08</text>
<text x="238.00" y="230.76" text-anchor="middle" font-size="5.1" fill="#222" stroke="#222" stroke-width="0.24">4.08E-42</text>
<text x="266.50" y="230.74" text-anchor="middle" font-size="5.1" fill="#222" stroke="#222" stroke-width="0.24">PANK3</text>
<text x="8.80" y="236.42" font-size="5.1" fill="#222" stroke="#222" stroke-width="0.24">rs35508085</text>
<text x="49.00" y="236.39" font-size="5.1" fill="#222" stroke="#222" stroke-width="0.24">11</text>
<text x="70.30" y="236.37" text-anchor="middle" font-size="5.1" fill="#222" stroke="#222" stroke-width="0.24">A</text>
<text x="94.30" y="236.35" text-anchor="middle" font-size="5.1" fill="#222" stroke="#222" stroke-width="0.24">G</text>
<text x="119.50" y="236.32" text-anchor="middle" font-size="5.1" fill="#222" stroke="#222" stroke-width="0.24">2165576</text>
<text x="238.00" y="236.22" text-anchor="middle" font-size="5.1" fill="#222" stroke="#222" stroke-width="0.24">2.85E-35</text>
<text x="266.50" y="236.20" text-anchor="middle" font-size="5.1" fill="#222" stroke="#222" stroke-width="0.24">IGF2</text>
<text x="8.80" y="241.88" font-size="5.1" fill="#222" stroke="#222" stroke-width="0.24">rs4976261</text>
<text x="49.00" y="241.84" font-size="5.1" fill="#222" stroke="#222" stroke-width="0.24">5</text>
<text x="70.30" y="241.82" text-anchor="middle" font-size="5.1" fill="#222" stroke="#222" stroke-width="0.24">C</text>
<text x="94.30" y="241.80" text-anchor="middle" font-size="5.1" fill="#222" stroke="#222" stroke-width="0.24">G</text>
<text x="119.50" y="241.78" text-anchor="middle" font-size="5.1" fill="#222" stroke="#222" stroke-width="0.24">1.34E+08</text>
<text x="238.00" y="241.68" text-anchor="middle" font-size="5.1" fill="#222" stroke="#222" stroke-width="0.24">1.41E-42</text>
<text x="266.50" y="241.65" text-anchor="middle" font-size="5.1" fill="#222" stroke="#222" stroke-width="0.24">PITX1</text>
<text x="8.80" y="247.33" font-size="5.1" fill="#222" stroke="#222" stroke-width="0.24">rs11042717</text>
<text x="49.00" y="247.30" font-size="5.1" fill="#222" stroke="#222" stroke-width="0.24">11</text>
<text x="70.30" y="247.28" text-anchor="middle" font-size="5.1" fill="#222" stroke="#222" stroke-width="0.24">C</text>
<text x="94.30" y="247.26" text-anchor="middle" font-size="5.1" fill="#222" stroke="#222" stroke-width="0.24">T</text>
<text x="119.50" y="247.24" text-anchor="middle" font-size="5.1" fill="#222" stroke="#222" stroke-width="0.24">10303939</text>
<text x="238.00" y="247.13" text-anchor="middle" font-size="5.1" fill="#222" stroke="#222" stroke-width="0.24">1.02E-55</text>
<text x="266.50" y="247.11" text-anchor="middle" font-size="5.1" fill="#222" stroke="#222" stroke-width="0.24">SBF2</text>
<text x="8.80" y="252.79" font-size="5.1" fill="#222" stroke="#222" stroke-width="0.24">rs13392139</text>
<text x="49.00" y="252.75" font-size="5.1" fill="#222" stroke="#222" stroke-width="0.24">2</text>
<text x="70.30" y="252.73" text-anchor="middle" font-size="5.1" fill="#222" stroke="#222" stroke-width="0.24">G</text>
<text x="94.30" y="252.71" text-anchor="middle" font-size="5.1" fill="#222" stroke="#222" stroke-width="0.24">A</text>
<text x="119.50" y="252.69" text-anchor="middle" font-size="5.1" fill="#222" stroke="#222" stroke-width="0.24">1.22E+08</text>
<text x="238.00" y="252.59" text-anchor="middle" font-size="5.1" fill="#222" stroke="#222" stroke-width="0.24">1.27E-13</text>
<text x="266.50" y="252.56" text-anchor="middle" font-size="5.1" fill="#222" stroke="#222" stroke-width="0.24">GLI2</text>
<text x="8.80" y="258.24" font-size="5.1" fill="#222" stroke="#222" stroke-width="0.24">rs292168</text>
<text x="49.00" y="258.21" font-size="5.1" fill="#222" stroke="#222" stroke-width="0.24">5</text>
<text x="70.30" y="258.19" text-anchor="middle" font-size="5.1" fill="#222" stroke="#222" stroke-width="0.24">G</text>
<text x="94.30" y="258.17" text-anchor="middle" font-size="5.1" fill="#222" stroke="#222" stroke-width="0.24">A</text>
<text x="119.50" y="258.15" text-anchor="middle" font-size="5.1" fill="#222" stroke="#222" stroke-width="0.24">36807189</text>
<text x="238.00" y="258.04" text-anchor="middle" font-size="5.1" fill="#222" stroke="#222" stroke-width="0.24">7.08E-51</text>
<text x="266.50" y="258.02" text-anchor="middle" font-size="5.1" fill="#222" stroke="#222" stroke-width="0.24">NIPBL</text>
<text x="8.80" y="263.70" font-size="5.1" fill="#222" stroke="#222" stroke-width="0.24">rs12209419</text>
<text x="49.00" y="263.67" font-size="5.1" fill="#222" stroke="#222" stroke-width="0.24">6</text>
<text x="70.30" y="263.65" text-anchor="middle" font-size="5.1" fill="#222" stroke="#222" stroke-width="0.24">T</text>
<text x="94.30" y="263.63" text-anchor="middle" font-size="5.1" fill="#222" stroke="#222" stroke-width="0.24">C</text>
<text x="119.50" y="263.60" text-anchor="middle" font-size="5.1" fill="#222" stroke="#222" stroke-width="0.24">80850814</text>
<text x="238.00" y="263.50" text-anchor="middle" font-size="5.1" fill="#222" stroke="#222" stroke-width="0.24">3.22E-43</text>
<text x="266.50" y="263.48" text-anchor="middle" font-size="5.1" fill="#222" stroke="#222" stroke-width="0.24">BCKDHB</text>
<text x="8.80" y="269.16" font-size="5.1" fill="#222" stroke="#222" stroke-width="0.24">rs12607384</text>
<text x="49.00" y="269.12" font-size="5.1" fill="#222" stroke="#222" stroke-width="0.24">15</text>
<text x="70.30" y="269.10" text-anchor="middle" font-size="5.1" fill="#222" stroke="#222" stroke-width="0.24">C</text>
<text x="94.30" y="269.08" text-anchor="middle" font-size="5.1" fill="#222" stroke="#222" stroke-width="0.24">T</text>
<text x="119.50" y="269.06" text-anchor="middle" font-size="5.1" fill="#222" stroke="#222" stroke-width="0.24">86276000</text>
<text x="238.00" y="268.96" text-anchor="middle" font-size="5.1" fill="#222" stroke="#222" stroke-width="0.24">1.63E-48</text>
<text x="266.50" y="268.93" text-anchor="middle" font-size="5.1" fill="#222" stroke="#222" stroke-width="0.24">AKAP13</text>
<text x="8.80" y="274.61" font-size="5.1" fill="#222" stroke="#222" stroke-width="0.24">rs11217663</text>
<text x="49.00" y="274.58" font-size="5.1" fill="#222" stroke="#222" stroke-width="0.24">11</text>
<text x="70.30" y="274.56" text-anchor="middle" font-size="5.1" fill="#222" stroke="#222" stroke-width="0.24">A</text>
<text x="94.30" y="274.54" text-anchor="middle" font-size="5.1" fill="#222" stroke="#222" stroke-width="0.24">G</text>
<text x="119.50" y="274.52" text-anchor="middle" font-size="5.1" fill="#222" stroke="#222" stroke-width="0.24">1.2E+08</text>
<text x="238.00" y="274.41" text-anchor="middle" font-size="5.1" fill="#222" stroke="#222" stroke-width="0.24">9.73E-20</text>
<text x="266.50" y="274.39" text-anchor="middle" font-size="5.1" fill="#222" stroke="#222" stroke-width="0.24">AP000758.1</text>
<text x="8.80" y="280.07" font-size="5.1" fill="#222" stroke="#222" stroke-width="0.24">rs12452935</text>
<text x="49.00" y="280.03" font-size="5.1" fill="#222" stroke="#222" stroke-width="0.24">17</text>
<text x="70.30" y="280.01" text-anchor="middle" font-size="5.1" fill="#222" stroke="#222" stroke-width="0.24">G</text>
<text x="94.30" y="279.99" text-anchor="middle" font-size="5.1" fill="#222" stroke="#222" stroke-width="0.24">C</text>
<text x="119.50" y="279.97" text-anchor="middle" font-size="5.1" fill="#222" stroke="#222" stroke-width="0.24">63556402</text>
<text x="238.00" y="279.87" text-anchor="middle" font-size="5.1" fill="#222" stroke="#222" stroke-width="0.24">1.37E-23</text>
<text x="266.50" y="279.84" text-anchor="middle" font-size="5.1" fill="#222" stroke="#222" stroke-width="0.24">AXIN2</text>
<text x="8.80" y="285.52" font-size="5.1" fill="#222" stroke="#222" stroke-width="0.24">rs543246912</text>
<text x="49.00" y="285.49" font-size="5.1" fill="#222" stroke="#222" stroke-width="0.24">6</text>
<text x="70.30" y="285.47" text-anchor="middle" font-size="5.1" fill="#222" stroke="#222" stroke-width="0.24">G</text>
<text x="94.30" y="285.45" text-anchor="middle" font-size="5.1" fill="#222" stroke="#222" stroke-width="0.24">A</text>
<text x="119.50" y="285.43" text-anchor="middle" font-size="5.1" fill="#222" stroke="#222" stroke-width="0.24">32612802</text>
<text x="238.00" y="285.32" text-anchor="middle" font-size="5.1" fill="#222" stroke="#222" stroke-width="0.24">3.04E-28</text>
<text x="266.50" y="285.30" text-anchor="middle" font-size="5.1" fill="#222" stroke="#222" stroke-width="0.24">HLA-DQA1</text>
<text x="8.80" y="290.98" font-size="5.1" fill="#222" stroke="#222" stroke-width="0.24">rs2298333</text>
<text x="49.00" y="290.95" font-size="5.1" fill="#222" stroke="#222" stroke-width="0.24">21</text>
<text x="70.30" y="290.93" text-anchor="middle" font-size="5.1" fill="#222" stroke="#222" stroke-width="0.24">T</text>
<text x="94.30" y="290.91" text-anchor="middle" font-size="5.1" fill="#222" stroke="#222" stroke-width="0.24">C</text>
<text x="119.50" y="290.88" text-anchor="middle" font-size="5.1" fill="#222" stroke="#222" stroke-width="0.24">39673681</text>
<text x="238.00" y="290.78" text-anchor="middle" font-size="5.1" fill="#222" stroke="#222" stroke-width="0.24">1.46E-44</text>
<text x="266.50" y="290.76" text-anchor="middle" font-size="5.1" fill="#222" stroke="#222" stroke-width="0.24">KCNJ15</text>
<text x="8.80" y="296.44" font-size="5.1" fill="#222" stroke="#222" stroke-width="0.24">rs71457724</text>
<text x="49.00" y="296.40" font-size="5.1" fill="#222" stroke="#222" stroke-width="0.24">11</text>
<text x="70.30" y="296.38" text-anchor="middle" font-size="5.1" fill="#222" stroke="#222" stroke-width="0.24">A</text>
<text x="94.30" y="296.36" text-anchor="middle" font-size="5.1" fill="#222" stroke="#222" stroke-width="0.24">G</text>
<text x="119.50" y="296.34" text-anchor="middle" font-size="5.1" fill="#222" stroke="#222" stroke-width="0.24">66226524</text>
<text x="238.00" y="296.24" text-anchor="middle" font-size="5.1" fill="#222" stroke="#222" stroke-width="0.24">1.59E-12</text>
<text x="266.50" y="296.21" text-anchor="middle" font-size="5.1" fill="#222" stroke="#222" stroke-width="0.24">PELO</text>
<text x="8.80" y="301.89" font-size="5.1" fill="#222" stroke="#222" stroke-width="0.24">rs12828099</text>
<text x="49.00" y="301.86" font-size="5.1" fill="#222" stroke="#222" stroke-width="0.24">12</text>
<text x="70.30" y="301.84" text-anchor="middle" font-size="5.1" fill="#222" stroke="#222" stroke-width="0.24">A</text>
<text x="94.30" y="301.82" text-anchor="middle" font-size="5.1" fill="#222" stroke="#222" stroke-width="0.24">C</text>
<text x="119.50" y="301.80" text-anchor="middle" font-size="5.1" fill="#222" stroke="#222" stroke-width="0.24">49604557</text>
<text x="238.00" y="301.69" text-anchor="middle" font-size="5.1" fill="#222" stroke="#222" stroke-width="0.24">1.54E-18</text>
<text x="266.50" y="301.67" text-anchor="middle" font-size="5.1" fill="#222" stroke="#222" stroke-width="0.24">SLC38A1</text>
<text x="8.80" y="307.35" font-size="5.1" fill="#222" stroke="#222" stroke-width="0.24">rs887411</text>
<text x="49.00" y="307.31" font-size="5.1" fill="#222" stroke="#222" stroke-width="0.24">12</text>
<text x="70.30" y="307.29" text-anchor="middle" font-size="5.1" fill="#222" stroke="#222" stroke-width="0.24">G</text>
<text x="94.30" y="307.27" text-anchor="middle" font-size="5.1" fill="#222" stroke="#222" stroke-width="0.24">T</text>
<text x="119.50" y="307.25" text-anchor="middle" font-size="5.1" fill="#222" stroke="#222" stroke-width="0.24">1.32E+08</text>
<text x="238.00" y="307.15" text-anchor="middle" font-size="5.1" fill="#222" stroke="#222" stroke-width="0.24">6.98E-38</text>
<text x="266.50" y="307.12" text-anchor="middle" font-size="5.1" fill="#222" stroke="#222" stroke-width="0.24">GPR133</text>
<text x="8.80" y="312.80" font-size="5.1" fill="#222" stroke="#222" stroke-width="0.24">rs6079084</text>
<text x="49.00" y="312.77" font-size="5.1" fill="#222" stroke="#222" stroke-width="0.24">6</text>
<text x="70.30" y="312.75" text-anchor="middle" font-size="5.1" fill="#222" stroke="#222" stroke-width="0.24">A</text>
<text x="94.30" y="312.73" text-anchor="middle" font-size="5.1" fill="#222" stroke="#222" stroke-width="0.24">G</text>
<text x="119.50" y="312.71" text-anchor="middle" font-size="5.1" fill="#222" stroke="#222" stroke-width="0.24">7231843</text>
<text x="238.00" y="312.60" text-anchor="middle" font-size="5.1" fill="#222" stroke="#222" stroke-width="0.24">1.67E-17</text>
<text x="266.50" y="312.58" text-anchor="middle" font-size="5.1" fill="#222" stroke="#222" stroke-width="0.24">SSR1</text>
<text x="8.80" y="318.26" font-size="5.1" fill="#222" stroke="#222" stroke-width="0.24">rs3843750</text>
<text x="49.00" y="318.23" font-size="5.1" fill="#222" stroke="#222" stroke-width="0.24">19</text>
<text x="70.30" y="318.21" text-anchor="middle" font-size="5.1" fill="#222" stroke="#222" stroke-width="0.24">G</text>
<text x="94.30" y="318.19" text-anchor="middle" font-size="5.1" fill="#222" stroke="#222" stroke-width="0.24">C</text>
<text x="119.50" y="318.16" text-anchor="middle" font-size="5.1" fill="#222" stroke="#222" stroke-width="0.24">10748073</text>
<text x="238.00" y="318.06" text-anchor="middle" font-size="5.1" fill="#222" stroke="#222" stroke-width="0.24">3.94E-38</text>
<text x="266.50" y="318.04" text-anchor="middle" font-size="5.1" fill="#222" stroke="#222" stroke-width="0.24">SLC44A2</text>
<text x="8.80" y="323.72" font-size="5.1" fill="#222" stroke="#222" stroke-width="0.24">rs7767703</text>
<text x="49.00" y="323.68" font-size="5.1" fill="#222" stroke="#222" stroke-width="0.24">6</text>
<text x="70.30" y="323.66" text-anchor="middle" font-size="5.1" fill="#222" stroke="#222" stroke-width="0.24">A</text>
<text x="94.30" y="323.64" text-anchor="middle" font-size="5.1" fill="#222" stroke="#222" stroke-width="0.24">C</text>
<text x="119.50" y="323.62" text-anchor="middle" font-size="5.1" fill="#222" stroke="#222" stroke-width="0.24">81039017</text>
<text x="238.00" y="323.52" text-anchor="middle" font-size="5.1" fill="#222" stroke="#222" stroke-width="0.24">2.87E-23</text>
<text x="266.50" y="323.49" text-anchor="middle" font-size="5.1" fill="#222" stroke="#222" stroke-width="0.24">BCKDHB</text>
<text x="8.80" y="329.17" font-size="5.1" fill="#222" stroke="#222" stroke-width="0.24">rs17010957</text>
<text x="49.00" y="329.14" font-size="5.1" fill="#222" stroke="#222" stroke-width="0.24">4</text>
<text x="70.30" y="329.12" text-anchor="middle" font-size="5.1" fill="#222" stroke="#222" stroke-width="0.24">C</text>
<text x="94.30" y="329.10" text-anchor="middle" font-size="5.1" fill="#222" stroke="#222" stroke-width="0.24">T</text>
<text x="119.50" y="329.08" text-anchor="middle" font-size="5.1" fill="#222" stroke="#222" stroke-width="0.24">88719165</text>
<text x="238.00" y="328.97" text-anchor="middle" font-size="5.1" fill="#222" stroke="#222" stroke-width="0.24">5.67E-21</text>
<text x="266.50" y="328.95" text-anchor="middle" font-size="5.1" fill="#222" stroke="#222" stroke-width="0.24">ARHGAP24</text>
<text x="8.80" y="334.63" font-size="5.1" fill="#222" stroke="#222" stroke-width="0.24">rs3792994</text>
<text x="49.00" y="334.59" font-size="5.1" fill="#222" stroke="#222" stroke-width="0.24">6</text>
<text x="70.30" y="334.57" text-anchor="middle" font-size="5.1" fill="#222" stroke="#222" stroke-width="0.24">T</text>
<text x="94.30" y="334.55" text-anchor="middle" font-size="5.1" fill="#222" stroke="#222" stroke-width="0.24">A</text>
<text x="119.50" y="334.53" text-anchor="middle" font-size="5.1" fill="#222" stroke="#222" stroke-width="0.24">81040105</text>
<text x="238.00" y="334.43" text-anchor="middle" font-size="5.1" fill="#222" stroke="#222" stroke-width="0.24">5.83E-23</text>
<text x="266.50" y="334.40" text-anchor="middle" font-size="5.1" fill="#222" stroke="#222" stroke-width="0.24">BCKDHB</text>
<text x="8.80" y="340.08" font-size="5.1" fill="#222" stroke="#222" stroke-width="0.24">rs72765838</text>
<text x="49.00" y="340.05" font-size="5.1" fill="#222" stroke="#222" stroke-width="0.24">15</text>
<text x="70.30" y="340.03" text-anchor="middle" font-size="5.1" fill="#222" stroke="#222" stroke-width="0.24">C</text>
<text x="94.30" y="340.01" text-anchor="middle" font-size="5.1" fill="#222" stroke="#222" stroke-width="0.24">G</text>
<text x="119.50" y="339.99" text-anchor="middle" font-size="5.1" fill="#222" stroke="#222" stroke-width="0.24">89257734</text>
<text x="238.00" y="339.88" text-anchor="middle" font-size="5.1" fill="#222" stroke="#222" stroke-width="0.24">6.54E-17</text>
<text x="266.50" y="339.86" text-anchor="middle" font-size="5.1" fill="#222" stroke="#222" stroke-width="0.24">ISG20</text>
<text x="8.80" y="345.54" font-size="5.1" fill="#222" stroke="#222" stroke-width="0.24">rs668347</text>
<text x="49.00" y="345.51" font-size="5.1" fill="#222" stroke="#222" stroke-width="0.24">11</text>
<text x="70.30" y="345.49" text-anchor="middle" font-size="5.1" fill="#222" stroke="#222" stroke-width="0.24">G</text>
<text x="94.30" y="345.47" text-anchor="middle" font-size="5.1" fill="#222" stroke="#222" stroke-width="0.24">T</text>
<text x="119.50" y="345.44" text-anchor="middle" font-size="5.1" fill="#222" stroke="#222" stroke-width="0.24">75275479</text>
<text x="238.00" y="345.34" text-anchor="middle" font-size="5.1" fill="#222" stroke="#222" stroke-width="0.24">5.89E-18</text>
<text x="266.50" y="345.32" text-anchor="middle" font-size="5.1" fill="#222" stroke="#222" stroke-width="0.24">SERPINH1</text>
<text x="8.80" y="351.00" font-size="5.1" fill="#222" stroke="#222" stroke-width="0.24">rs115984130</text>
<text x="49.00" y="350.96" font-size="5.1" fill="#222" stroke="#222" stroke-width="0.24">6</text>
<text x="70.30" y="350.94" text-anchor="middle" font-size="5.1" fill="#222" stroke="#222" stroke-width="0.24">G</text>
<text x="94.30" y="350.92" text-anchor="middle" font-size="5.1" fill="#222" stroke="#222" stroke-width="0.24">C</text>
<text x="119.50" y="350.90" text-anchor="middle" font-size="5.1" fill="#222" stroke="#222" stroke-width="0.24">32459355</text>
<text x="238.00" y="350.80" text-anchor="middle" font-size="5.1" fill="#222" stroke="#222" stroke-width="0.24">1.99E-19</text>
<text x="266.50" y="350.77" text-anchor="middle" font-size="5.1" fill="#222" stroke="#222" stroke-width="0.24">HLA-DRB5</text>
<text x="8.80" y="356.45" font-size="5.1" fill="#222" stroke="#222" stroke-width="0.24">rs1772146</text>
<text x="49.00" y="356.42" font-size="5.1" fill="#222" stroke="#222" stroke-width="0.24">1</text>
<text x="70.30" y="356.40" text-anchor="middle" font-size="5.1" fill="#222" stroke="#222" stroke-width="0.24">T</text>
<text x="94.30" y="356.38" text-anchor="middle" font-size="5.1" fill="#222" stroke="#222" stroke-width="0.24">A</text>
<text x="119.50" y="356.36" text-anchor="middle" font-size="5.1" fill="#222" stroke="#222" stroke-width="0.24">2.06E+08</text>
<text x="238.00" y="356.25" text-anchor="middle" font-size="5.1" fill="#222" stroke="#222" stroke-width="0.24">3.94E-34</text>
<text x="266.50" y="356.23" text-anchor="middle" font-size="5.1" fill="#222" stroke="#222" stroke-width="0.24">NUCKS1</text>
<text x="8.80" y="361.91" font-size="5.1" fill="#222" stroke="#222" stroke-width="0.24">rs36000545</text>
<text x="49.00" y="361.87" font-size="5.1" fill="#222" stroke="#222" stroke-width="0.24">17</text>
<text x="70.30" y="361.85" text-anchor="middle" font-size="5.1" fill="#222" stroke="#222" stroke-width="0.24">G</text>
<text x="94.30" y="361.83" text-anchor="middle" font-size="5.1" fill="#222" stroke="#222" stroke-width="0.24">A</text>
<text x="119.50" y="361.81" text-anchor="middle" font-size="5.1" fill="#222" stroke="#222" stroke-width="0.24">79093822</text>
<text x="238.00" y="361.71" text-anchor="middle" font-size="5.1" fill="#222" stroke="#222" stroke-width="0.24">1.12E-29</text>
<text x="266.50" y="361.68" text-anchor="middle" font-size="5.1" fill="#222" stroke="#222" stroke-width="0.24">AATK</text>
<text x="8.80" y="367.36" font-size="5.1" fill="#222" stroke="#222" stroke-width="0.24">rs6762851</text>
<text x="49.00" y="367.33" font-size="5.1" fill="#222" stroke="#222" stroke-width="0.24">3</text>
<text x="70.30" y="367.31" text-anchor="middle" font-size="5.1" fill="#222" stroke="#222" stroke-width="0.24">C</text>
<text x="94.30" y="367.29" text-anchor="middle" font-size="5.1" fill="#222" stroke="#222" stroke-width="0.24">T</text>
<text x="119.50" y="367.27" text-anchor="middle" font-size="5.1" fill="#222" stroke="#222" stroke-width="0.24">56686329</text>
<text x="238.00" y="367.16" text-anchor="middle" font-size="5.1" fill="#222" stroke="#222" stroke-width="0.24">4.03E-29</text>
<text x="266.50" y="367.14" text-anchor="middle" font-size="5.1" fill="#222" stroke="#222" stroke-width="0.24">FAM208A</text>
<text x="8.80" y="372.82" font-size="5.1" fill="#222" stroke="#222" stroke-width="0.24">rs60804050</text>
<text x="49.00" y="372.79" font-size="5.1" fill="#222" stroke="#222" stroke-width="0.24">1</text>
<text x="70.30" y="372.77" text-anchor="middle" font-size="5.1" fill="#222" stroke="#222" stroke-width="0.24">A</text>
<text x="94.30" y="372.75" text-anchor="middle" font-size="5.1" fill="#222" stroke="#222" stroke-width="0.24">G</text>
<text x="119.50" y="372.72" text-anchor="middle" font-size="5.1" fill="#222" stroke="#222" stroke-width="0.24">1.19E+08</text>
<text x="238.00" y="372.62" text-anchor="middle" font-size="5.1" fill="#222" stroke="#222" stroke-width="0.24">1.81E-23</text>
<text x="266.50" y="372.60" text-anchor="middle" font-size="5.1" fill="#222" stroke="#222" stroke-width="0.24">SPAG17</text>
<text x="8.80" y="378.28" font-size="5.1" fill="#222" stroke="#222" stroke-width="0.24">rs6544743</text>
<text x="49.00" y="378.24" font-size="5.1" fill="#222" stroke="#222" stroke-width="0.24">2</text>
<text x="70.30" y="378.22" text-anchor="middle" font-size="5.1" fill="#222" stroke="#222" stroke-width="0.24">G</text>
<text x="94.30" y="378.20" text-anchor="middle" font-size="5.1" fill="#222" stroke="#222" stroke-width="0.24">T</text>
<text x="119.50" y="378.18" text-anchor="middle" font-size="5.1" fill="#222" stroke="#222" stroke-width="0.24">44390369</text>
<text x="238.00" y="378.08" text-anchor="middle" font-size="5.1" fill="#222" stroke="#222" stroke-width="0.24">1.52E-20</text>
<text x="266.50" y="378.05" text-anchor="middle" font-size="5.1" fill="#222" stroke="#222" stroke-width="0.24">PPM1B</text>
<text x="8.80" y="383.73" font-size="5.1" fill="#222" stroke="#222" stroke-width="0.24">rs9273771</text>
<text x="49.00" y="383.70" font-size="5.1" fill="#222" stroke="#222" stroke-width="0.24">6</text>
<text x="70.30" y="383.68" text-anchor="middle" font-size="5.1" fill="#222" stroke="#222" stroke-width="0.24">G</text>
<text x="94.30" y="383.66" text-anchor="middle" font-size="5.1" fill="#222" stroke="#222" stroke-width="0.24">C</text>
<text x="119.50" y="383.64" text-anchor="middle" font-size="5.1" fill="#222" stroke="#222" stroke-width="0.24">32629437</text>
<text x="238.00" y="383.53" text-anchor="middle" font-size="5.1" fill="#222" stroke="#222" stroke-width="0.24">1.09E-13</text>
<text x="266.50" y="383.51" text-anchor="middle" font-size="5.1" fill="#222" stroke="#222" stroke-width="0.24">HLA-DQB1</text>
<text x="8.80" y="389.19" font-size="5.1" fill="#222" stroke="#222" stroke-width="0.24">rs71352704</text>
<text x="49.00" y="389.15" font-size="5.1" fill="#222" stroke="#222" stroke-width="0.24">19</text>
<text x="70.30" y="389.13" text-anchor="middle" font-size="5.1" fill="#222" stroke="#222" stroke-width="0.24">C</text>
<text x="94.30" y="389.11" text-anchor="middle" font-size="5.1" fill="#222" stroke="#222" stroke-width="0.24">A</text>
<text x="119.50" y="389.09" text-anchor="middle" font-size="5.1" fill="#222" stroke="#222" stroke-width="0.24">49299071</text>
<text x="238.00" y="388.99" text-anchor="middle" font-size="5.1" fill="#222" stroke="#222" stroke-width="0.24">3.92E-08</text>
<text x="266.50" y="388.96" text-anchor="middle" font-size="5.1" fill="#222" stroke="#222" stroke-width="0.24">BCAT2</text>
<text x="8.80" y="394.64" font-size="5.1" fill="#222" stroke="#222" stroke-width="0.24">rs7768382</text>
<text x="49.00" y="394.61" font-size="5.1" fill="#222" stroke="#222" stroke-width="0.24">6</text>
<text x="70.30" y="394.59" text-anchor="middle" font-size="5.1" fill="#222" stroke="#222" stroke-width="0.24">C</text>
<text x="94.30" y="394.57" text-anchor="middle" font-size="5.1" fill="#222" stroke="#222" stroke-width="0.24">T</text>
<text x="119.50" y="394.55" text-anchor="middle" font-size="5.1" fill="#222" stroke="#222" stroke-width="0.24">1.66E+08</text>
<text x="238.00" y="394.44" text-anchor="middle" font-size="5.1" fill="#222" stroke="#222" stroke-width="0.24">1.39E-26</text>
<text x="266.50" y="394.42" text-anchor="middle" font-size="5.1" fill="#222" stroke="#222" stroke-width="0.24">SDIM1</text>
<text x="8.80" y="400.10" font-size="5.1" fill="#222" stroke="#222" stroke-width="0.24">rs10832983</text>
<text x="49.00" y="400.07" font-size="5.1" fill="#222" stroke="#222" stroke-width="0.24">11</text>
<text x="70.30" y="400.05" text-anchor="middle" font-size="5.1" fill="#222" stroke="#222" stroke-width="0.24">G</text>
<text x="94.30" y="400.03" text-anchor="middle" font-size="5.1" fill="#222" stroke="#222" stroke-width="0.24">T</text>
<text x="119.50" y="400.00" text-anchor="middle" font-size="5.1" fill="#222" stroke="#222" stroke-width="0.24">18864241</text>
<text x="238.00" y="399.90" text-anchor="middle" font-size="5.1" fill="#222" stroke="#222" stroke-width="0.24">9.06E-21</text>
<text x="266.50" y="399.88" text-anchor="middle" font-size="5.1" fill="#222" stroke="#222" stroke-width="0.24">SPTY2D1</text>
<text x="8.80" y="405.56" font-size="5.1" fill="#222" stroke="#222" stroke-width="0.24">rs4360494</text>
<text x="49.00" y="405.52" font-size="5.1" fill="#222" stroke="#222" stroke-width="0.24">1</text>
<text x="70.30" y="405.50" text-anchor="middle" font-size="5.1" fill="#222" stroke="#222" stroke-width="0.24">C</text>
<text x="94.30" y="405.48" text-anchor="middle" font-size="5.1" fill="#222" stroke="#222" stroke-width="0.24">G</text>
<text x="119.50" y="405.46" text-anchor="middle" font-size="5.1" fill="#222" stroke="#222" stroke-width="0.24">38455691</text>
<text x="238.00" y="405.36" text-anchor="middle" font-size="5.1" fill="#222" stroke="#222" stroke-width="0.24">1.69E-25</text>
<text x="266.50" y="405.33" text-anchor="middle" font-size="5.1" fill="#222" stroke="#222" stroke-width="0.24">SF3A3</text>
<text x="8.80" y="411.01" font-size="5.1" fill="#222" stroke="#222" stroke-width="0.24">rs62501166</text>
<text x="49.00" y="410.98" font-size="5.1" fill="#222" stroke="#222" stroke-width="0.24">8</text>
<text x="70.30" y="410.96" text-anchor="middle" font-size="5.1" fill="#222" stroke="#222" stroke-width="0.24">C</text>
<text x="94.30" y="410.94" text-anchor="middle" font-size="5.1" fill="#222" stroke="#222" stroke-width="0.24">A</text>
<text x="119.50" y="410.92" text-anchor="middle" font-size="5.1" fill="#222" stroke="#222" stroke-width="0.24">24041868</text>
<text x="238.00" y="410.81" text-anchor="middle" font-size="5.1" fill="#222" stroke="#222" stroke-width="0.24">1.21E-14</text>
<text x="266.50" y="410.79" text-anchor="middle" font-size="5.1" fill="#222" stroke="#222" stroke-width="0.24">ADAM28</text>
<text x="8.80" y="416.47" font-size="5.1" fill="#222" stroke="#222" stroke-width="0.24">rs62442203</text>
<text x="49.00" y="416.43" font-size="5.1" fill="#222" stroke="#222" stroke-width="0.24">7</text>
<text x="70.30" y="416.41" text-anchor="middle" font-size="5.1" fill="#222" stroke="#222" stroke-width="0.24">C</text>
<text x="94.30" y="416.39" text-anchor="middle" font-size="5.1" fill="#222" stroke="#222" stroke-width="0.24">G</text>
<text x="119.50" y="416.37" text-anchor="middle" font-size="5.1" fill="#222" stroke="#222" stroke-width="0.24">28829253</text>
<text x="238.00" y="416.27" text-anchor="middle" font-size="5.1" fill="#222" stroke="#222" stroke-width="0.24">3.75E-24</text>
<text x="266.50" y="416.24" text-anchor="middle" font-size="5.1" fill="#222" stroke="#222" stroke-width="0.24">CREB5</text>
<text x="8.80" y="421.92" font-size="5.1" fill="#222" stroke="#222" stroke-width="0.24">rs2066827</text>
<text x="49.00" y="421.89" font-size="5.1" fill="#222" stroke="#222" stroke-width="0.24">12</text>
<text x="70.30" y="421.87" text-anchor="middle" font-size="5.1" fill="#222" stroke="#222" stroke-width="0.24">G</text>
<text x="94.30" y="421.85" text-anchor="middle" font-size="5.1" fill="#222" stroke="#222" stroke-width="0.24">T</text>
<text x="119.50" y="421.83" text-anchor="middle" font-size="5.1" fill="#222" stroke="#222" stroke-width="0.24">12871099</text>
<text x="238.00" y="421.72" text-anchor="middle" font-size="5.1" fill="#222" stroke="#222" stroke-width="0.24">8.76E-18</text>
<text x="266.50" y="421.70" text-anchor="middle" font-size="5.1" fill="#222" stroke="#222" stroke-width="0.24">CDKN1B</text>
<text x="8.80" y="427.38" font-size="5.1" fill="#222" stroke="#222" stroke-width="0.24">rs6683955</text>
<text x="49.00" y="427.35" font-size="5.1" fill="#222" stroke="#222" stroke-width="0.24">3</text>
<text x="70.30" y="427.33" text-anchor="middle" font-size="5.1" fill="#222" stroke="#222" stroke-width="0.24">G</text>
<text x="94.30" y="427.31" text-anchor="middle" font-size="5.1" fill="#222" stroke="#222" stroke-width="0.24">T</text>
<text x="119.50" y="427.28" text-anchor="middle" font-size="5.1" fill="#222" stroke="#222" stroke-width="0.24">1.34E+08</text>
<text x="238.00" y="427.18" text-anchor="middle" font-size="5.1" fill="#222" stroke="#222" stroke-width="0.24">8.12E-22</text>
<text x="266.50" y="427.16" text-anchor="middle" font-size="5.1" fill="#222" stroke="#222" stroke-width="0.24">KY</text>
<text x="8.80" y="432.84" font-size="5.1" fill="#222" stroke="#222" stroke-width="0.24">rs574579046</text>
<text x="49.00" y="432.80" font-size="5.1" fill="#222" stroke="#222" stroke-width="0.24">6</text>
<text x="70.30" y="432.78" text-anchor="middle" font-size="5.1" fill="#222" stroke="#222" stroke-width="0.24">T</text>
<text x="94.30" y="432.76" text-anchor="middle" font-size="5.1" fill="#222" stroke="#222" stroke-width="0.24">A</text>
<text x="119.50" y="432.74" text-anchor="middle" font-size="5.1" fill="#222" stroke="#222" stroke-width="0.24">32619069</text>
<text x="238.00" y="432.64" text-anchor="middle" font-size="5.1" fill="#222" stroke="#222" stroke-width="0.24">2.39E-13</text>
<text x="266.50" y="432.61" text-anchor="middle" font-size="5.1" fill="#222" stroke="#222" stroke-width="0.24">HLA-DQA1</text>
<text x="8.80" y="438.29" font-size="5.1" fill="#222" stroke="#222" stroke-width="0.24">rs1609829</text>
<text x="49.00" y="438.26" font-size="5.1" fill="#222" stroke="#222" stroke-width="0.24">1</text>
<text x="70.30" y="438.24" text-anchor="middle" font-size="5.1" fill="#222" stroke="#222" stroke-width="0.24">C</text>
<text x="94.30" y="438.22" text-anchor="middle" font-size="5.1" fill="#222" stroke="#222" stroke-width="0.24">T</text>
<text x="119.50" y="438.20" text-anchor="middle" font-size="5.1" fill="#222" stroke="#222" stroke-width="0.24">1.81E+08</text>
<text x="238.00" y="438.09" text-anchor="middle" font-size="5.1" fill="#222" stroke="#222" stroke-width="0.24">5.08E-18</text>
<text x="266.50" y="438.07" text-anchor="middle" font-size="5.1" fill="#222" stroke="#222" stroke-width="0.24">KIAA1614</text>
<text x="8.80" y="443.75" font-size="5.1" fill="#222" stroke="#222" stroke-width="0.24">rs8107967</text>
<text x="49.00" y="443.71" font-size="5.1" fill="#222" stroke="#222" stroke-width="0.24">19</text>
<text x="70.30" y="443.69" text-anchor="middle" font-size="5.1" fill="#222" stroke="#222" stroke-width="0.24">G</text>
<text x="94.30" y="443.67" text-anchor="middle" font-size="5.1" fill="#222" stroke="#222" stroke-width="0.24">A</text>
<text x="119.50" y="443.65" text-anchor="middle" font-size="5.1" fill="#222" stroke="#222" stroke-width="0.24">7972615</text>
<text x="238.00" y="443.55" text-anchor="middle" font-size="5.1" fill="#222" stroke="#222" stroke-width="0.24">1.7E-20</text>
<text x="266.50" y="443.52" text-anchor="middle" font-size="5.1" fill="#222" stroke="#222" stroke-width="0.24">MAP2K7</text>
<text x="8.80" y="449.20" font-size="5.1" fill="#222" stroke="#222" stroke-width="0.24">rs56211918</text>
<text x="49.00" y="449.17" font-size="5.1" fill="#222" stroke="#222" stroke-width="0.24">2</text>
<text x="70.30" y="449.15" text-anchor="middle" font-size="5.1" fill="#222" stroke="#222" stroke-width="0.24">T</text>
<text x="94.30" y="449.13" text-anchor="middle" font-size="5.1" fill="#222" stroke="#222" stroke-width="0.24">G</text>
<text x="119.50" y="449.11" text-anchor="middle" font-size="5.1" fill="#222" stroke="#222" stroke-width="0.24">2.42E+08</text>
<text x="238.00" y="449.00" text-anchor="middle" font-size="5.1" fill="#222" stroke="#222" stroke-width="0.24">7.75E-18</text>
<text x="266.50" y="448.98" text-anchor="middle" font-size="5.1" fill="#222" stroke="#222" stroke-width="0.24">BOK</text>
<text x="8.80" y="454.66" font-size="5.1" fill="#222" stroke="#222" stroke-width="0.24">rs6718655</text>
<text x="49.00" y="454.63" font-size="5.1" fill="#222" stroke="#222" stroke-width="0.24">2</text>
<text x="70.30" y="454.61" text-anchor="middle" font-size="5.1" fill="#222" stroke="#222" stroke-width="0.24">T</text>
<text x="94.30" y="454.59" text-anchor="middle" font-size="5.1" fill="#222" stroke="#222" stroke-width="0.24">C</text>
<text x="119.50" y="454.56" text-anchor="middle" font-size="5.1" fill="#222" stroke="#222" stroke-width="0.24">2.42E+08</text>
<text x="238.00" y="454.46" text-anchor="middle" font-size="5.1" fill="#222" stroke="#222" stroke-width="0.24">8.92E-18</text>
<text x="266.50" y="454.44" text-anchor="middle" font-size="5.1" fill="#222" stroke="#222" stroke-width="0.24">BOK</text>
<text x="8.80" y="460.12" font-size="5.1" fill="#222" stroke="#222" stroke-width="0.24">rs6733504</text>
<text x="49.00" y="460.08" font-size="5.1" fill="#222" stroke="#222" stroke-width="0.24">2</text>
<text x="70.30" y="460.06" text-anchor="middle" font-size="5.1" fill="#222" stroke="#222" stroke-width="0.24">G</text>
<text x="94.30" y="460.04" text-anchor="middle" font-size="5.1" fill="#222" stroke="#222" stroke-width="0.24">A</text>
<text x="119.50" y="460.02" text-anchor="middle" font-size="5.1" fill="#222" stroke="#222" stroke-width="0.24">2.42E+08</text>
<text x="238.00" y="459.92" text-anchor="middle" font-size="5.1" fill="#222" stroke="#222" stroke-width="0.24">8.21E-18</text>
<text x="266.50" y="459.89" text-anchor="middle" font-size="5.1" fill="#222" stroke="#222" stroke-width="0.24">BOK</text>
<text x="8.80" y="465.57" font-size="5.1" fill="#222" stroke="#222" stroke-width="0.24">rs76993203</text>
<text x="49.00" y="465.54" font-size="5.1" fill="#222" stroke="#222" stroke-width="0.24">2</text>
<text x="70.30" y="465.52" text-anchor="middle" font-size="5.1" fill="#222" stroke="#222" stroke-width="0.24">A</text>
<text x="94.30" y="465.50" text-anchor="middle" font-size="5.1" fill="#222" stroke="#222" stroke-width="0.24">G</text>
<text x="119.50" y="465.48" text-anchor="middle" font-size="5.1" fill="#222" stroke="#222" stroke-width="0.24">2.42E+08</text>
<text x="238.00" y="465.37" text-anchor="middle" font-size="5.1" fill="#222" stroke="#222" stroke-width="0.24">1.48E-17</text>
<text x="266.50" y="465.35" text-anchor="middle" font-size="5.1" fill="#222" stroke="#222" stroke-width="0.24">BOK</text>
<text x="8.80" y="471.03" font-size="5.1" fill="#222" stroke="#222" stroke-width="0.24">rs10107388</text>
<text x="49.00" y="470.99" font-size="5.1" fill="#222" stroke="#222" stroke-width="0.24">8</text>
<text x="70.30" y="470.97" text-anchor="middle" font-size="5.1" fill="#222" stroke="#222" stroke-width="0.24">C</text>
<text x="94.30" y="470.95" text-anchor="middle" font-size="5.1" fill="#222" stroke="#222" stroke-width="0.24">T</text>
<text x="119.50" y="470.93" text-anchor="middle" font-size="5.1" fill="#222" stroke="#222" stroke-width="0.24">1.45E+08</text>
<text x="238.00" y="470.83" text-anchor="middle" font-size="5.1" fill="#222" stroke="#222" stroke-width="0.24">1.09E-16</text>
<text x="266.50" y="470.80" text-anchor="middle" font-size="5.1" fill="#222" stroke="#222" stroke-width="0.24">PLEC</text>
<text x="8.80" y="476.48" font-size="5.1" fill="#222" stroke="#222" stroke-width="0.24">rs676531</text>
<text x="49.00" y="476.45" font-size="5.1" fill="#222" stroke="#222" stroke-width="0.24">2</text>
<text x="70.30" y="476.43" text-anchor="middle" font-size="5.1" fill="#222" stroke="#222" stroke-width="0.24">T</text>
<text x="94.30" y="476.41" text-anchor="middle" font-size="5.1" fill="#222" stroke="#222" stroke-width="0.24">C</text>
<text x="119.50" y="476.39" text-anchor="middle" font-size="5.1" fill="#222" stroke="#222" stroke-width="0.24">2.43E+08</text>
<text x="238.00" y="476.28" text-anchor="middle" font-size="5.1" fill="#222" stroke="#222" stroke-width="0.24">4.18E-17</text>
<text x="266.50" y="476.26" text-anchor="middle" font-size="5.1" fill="#222" stroke="#222" stroke-width="0.24">BOK</text>
<text x="8.80" y="481.94" font-size="5.1" fill="#222" stroke="#222" stroke-width="0.24">rs10170971</text>
<text x="49.00" y="481.91" font-size="5.1" fill="#222" stroke="#222" stroke-width="0.24">2</text>
<text x="70.30" y="481.89" text-anchor="middle" font-size="5.1" fill="#222" stroke="#222" stroke-width="0.24">C</text>
<text x="94.30" y="481.87" text-anchor="middle" font-size="5.1" fill="#222" stroke="#222" stroke-width="0.24">G</text>
<text x="119.50" y="481.84" text-anchor="middle" font-size="5.1" fill="#222" stroke="#222" stroke-width="0.24">2.42E+08</text>
<text x="238.00" y="481.74" text-anchor="middle" font-size="5.1" fill="#222" stroke="#222" stroke-width="0.24">9.22E-17</text>
<text x="266.50" y="481.72" text-anchor="middle" font-size="5.1" fill="#222" stroke="#222" stroke-width="0.24">BOK</text>
<text x="8.80" y="487.40" font-size="5.1" fill="#222" stroke="#222" stroke-width="0.24">rs7248239</text>
<text x="49.00" y="487.36" font-size="5.1" fill="#222" stroke="#222" stroke-width="0.24">19</text>
<text x="70.30" y="487.34" text-anchor="middle" font-size="5.1" fill="#222" stroke="#222" stroke-width="0.24">T</text>
<text x="94.30" y="487.32" text-anchor="middle" font-size="5.1" fill="#222" stroke="#222" stroke-width="0.24">C</text>
<text x="119.50" y="487.30" text-anchor="middle" font-size="5.1" fill="#222" stroke="#222" stroke-width="0.24">8632075</text>
<text x="238.00" y="487.20" text-anchor="middle" font-size="5.1" fill="#222" stroke="#222" stroke-width="0.24">8.45E-12</text>
<text x="266.50" y="487.17" text-anchor="middle" font-size="5.1" fill="#222" stroke="#222" stroke-width="0.24">MYO1F</text>
<text x="8.80" y="492.85" font-size="5.1" fill="#222" stroke="#222" stroke-width="0.24">rs6028578</text>
<text x="49.00" y="492.82" font-size="5.1" fill="#222" stroke="#222" stroke-width="0.24">20</text>
<text x="70.30" y="492.80" text-anchor="middle" font-size="5.1" fill="#222" stroke="#222" stroke-width="0.24">G</text>
<text x="94.30" y="492.78" text-anchor="middle" font-size="5.1" fill="#222" stroke="#222" stroke-width="0.24">C</text>
<text x="119.50" y="492.76" text-anchor="middle" font-size="5.1" fill="#222" stroke="#222" stroke-width="0.24">57493472</text>
<text x="238.00" y="492.65" text-anchor="middle" font-size="5.1" fill="#222" stroke="#222" stroke-width="0.24">4.29E-15</text>
<text x="266.50" y="492.63" text-anchor="middle" font-size="5.1" fill="#222" stroke="#222" stroke-width="0.24">GNAS</text>
<text x="8.80" y="498.31" font-size="5.1" fill="#222" stroke="#222" stroke-width="0.24">rs11242236</text>
<text x="49.00" y="498.27" font-size="5.1" fill="#222" stroke="#222" stroke-width="0.24">5</text>
<text x="70.30" y="498.25" text-anchor="middle" font-size="5.1" fill="#222" stroke="#222" stroke-width="0.24">A</text>
<text x="94.30" y="498.23" text-anchor="middle" font-size="5.1" fill="#222" stroke="#222" stroke-width="0.24">G</text>
<text x="119.50" y="498.21" text-anchor="middle" font-size="5.1" fill="#222" stroke="#222" stroke-width="0.24">1.36E+08</text>
<text x="238.00" y="498.11" text-anchor="middle" font-size="5.1" fill="#222" stroke="#222" stroke-width="0.24">2.97E-15</text>
<text x="266.50" y="498.08" text-anchor="middle" font-size="5.1" fill="#222" stroke="#222" stroke-width="0.24">C5orf66</text>
<text x="8.80" y="503.76" font-size="5.1" fill="#222" stroke="#222" stroke-width="0.24">rs2168101</text>
<text x="49.00" y="503.73" font-size="5.1" fill="#222" stroke="#222" stroke-width="0.24">11</text>
<text x="70.30" y="503.71" text-anchor="middle" font-size="5.1" fill="#222" stroke="#222" stroke-width="0.24">A</text>
<text x="94.30" y="503.69" text-anchor="middle" font-size="5.1" fill="#222" stroke="#222" stroke-width="0.24">C</text>
<text x="119.50" y="503.67" text-anchor="middle" font-size="5.1" fill="#222" stroke="#222" stroke-width="0.24">8255406</text>
<text x="238.00" y="503.56" text-anchor="middle" font-size="5.1" fill="#222" stroke="#222" stroke-width="0.24">2.76E-11</text>
<text x="266.50" y="503.54" text-anchor="middle" font-size="5.1" fill="#222" stroke="#222" stroke-width="0.24">LMO1</text>
<text x="8.80" y="509.22" font-size="5.1" fill="#222" stroke="#222" stroke-width="0.24">rs7396827</text>
<text x="49.00" y="509.19" font-size="5.1" fill="#222" stroke="#222" stroke-width="0.24">11</text>
<text x="70.30" y="509.17" text-anchor="middle" font-size="5.1" fill="#222" stroke="#222" stroke-width="0.24">C</text>
<text x="94.30" y="509.15" text-anchor="middle" font-size="5.1" fill="#222" stroke="#222" stroke-width="0.24">T</text>
<text x="119.50" y="509.12" text-anchor="middle" font-size="5.1" fill="#222" stroke="#222" stroke-width="0.24">28577887</text>
<text x="238.00" y="509.02" text-anchor="middle" font-size="5.1" fill="#222" stroke="#222" stroke-width="0.24">1.93E-13</text>
<text x="266.50" y="509.00" text-anchor="middle" font-size="5.1" fill="#222" stroke="#222" stroke-width="0.24">METTL15</text>
<text x="8.80" y="514.68" font-size="5.1" fill="#222" stroke="#222" stroke-width="0.24">rs4801776</text>
<text x="49.00" y="514.64" font-size="5.1" fill="#222" stroke="#222" stroke-width="0.24">19</text>
<text x="70.30" y="514.62" text-anchor="middle" font-size="5.1" fill="#222" stroke="#222" stroke-width="0.24">C</text>
<text x="94.30" y="514.60" text-anchor="middle" font-size="5.1" fill="#222" stroke="#222" stroke-width="0.24">T</text>
<text x="119.50" y="514.58" text-anchor="middle" font-size="5.1" fill="#222" stroke="#222" stroke-width="0.24">49304215</text>
<text x="238.00" y="514.48" text-anchor="middle" font-size="5.1" fill="#222" stroke="#222" stroke-width="0.24">1.11E-09</text>
<text x="266.50" y="514.45" text-anchor="middle" font-size="5.1" fill="#222" stroke="#222" stroke-width="0.24">BCAT2</text>
<text x="144.10" y="523.07" text-anchor="middle" font-size="5.1" fill="#222" stroke="#222" stroke-width="0.24">−0.08</text>
<text x="166.30" y="523.05" text-anchor="middle" font-size="5.1" fill="#222" stroke="#222" stroke-width="0.24">−0.06</text>
<text x="188.50" y="523.04" text-anchor="middle" font-size="5.1" fill="#222" stroke="#222" stroke-width="0.24">−0.04</text>
<text x="210.70" y="523.02" text-anchor="middle" font-size="5.1" fill="#222" stroke="#222" stroke-width="0.24">−0.02</text>
<text x="299.50" y="10.54" font-size="13.5" font-weight="bold" fill="#111">b</text>
<text x="299.40" y="41.64" font-size="7.1" fill="#111" stroke="#111" stroke-width="0.2">SNPs</text>
<text x="590.10" y="41.89" font-size="7.1" fill="#111" stroke="#111" stroke-width="0.2">Traits</text>
<text x="299.40" y="83.94" font-style="italic" font-size="7.1" fill="#111" stroke="#111" stroke-width="0.2">rs7767703</text>
<text x="299.40" y="146.04" font-style="italic" font-size="7.1" fill="#111" stroke="#111" stroke-width="0.2">rs12209419</text>
<text x="299.40" y="210.54" font-style="italic" font-size="7.1" fill="#111" stroke="#111" stroke-width="0.2">rs9443745</text>
<text x="299.40" y="288.84" font-style="italic" font-size="7.1" fill="#111" stroke="#111" stroke-width="0.2">rs3792994</text>
<text x="299.40" y="383.24" font-style="italic" font-size="7.1" fill="#111" stroke="#111" stroke-width="0.2">rs4801776</text>
<text x="299.40" y="467.14" font-style="italic" font-size="7.1" fill="#111" stroke="#111" stroke-width="0.2">rs71352704</text>
<text x="590.30" y="65.38" font-size="7.1" fill="#111" stroke="#111" stroke-width="0.2">Arm fat-free mass (left)</text>
<text x="590.30" y="87.48" font-size="7.1" fill="#111" stroke="#111" stroke-width="0.2">Isoleucine</text>
<text x="590.30" y="108.48" font-size="7.1" fill="#111" stroke="#111" stroke-width="0.2">Arm fat-free mass (right)</text>
<text x="590.30" y="131.78" font-size="7.1" fill="#111" stroke="#111" stroke-width="0.2">Leucine</text>
<text x="590.30" y="152.98" font-size="7.1" fill="#111" stroke="#111" stroke-width="0.2">Basal metabolic rate</text>
<text x="590.30" y="179.58" font-size="7.1" fill="#111" stroke="#111" stroke-width="0.2">Cholesterol</text>
<text x="590.30" y="199.28" font-size="7.1" fill="#111" stroke="#111" stroke-width="0.2">Hand grip strength (left)</text>
<text x="590.30" y="221.18" font-size="7.1" fill="#111" stroke="#111" stroke-width="0.2">Hand grip strength (right)</text>
<text x="590.30" y="238.28" font-size="7.1" fill="#111" stroke="#111" stroke-width="0.2">Impedance of arm (left)</text>
<text x="590.30" y="253.48" font-size="7.1" fill="#111" stroke="#111" stroke-width="0.2">Impedance of arm (right)</text>
<text x="590.30" y="266.28" font-size="7.1" fill="#111" stroke="#111" stroke-width="0.2">Impedance of leg (left)</text>
<text x="590.30" y="280.08" font-size="7.1" fill="#111" stroke="#111" stroke-width="0.2">Impedance of leg (right)</text>
<text x="590.30" y="298.18" font-size="7.1" fill="#111" stroke="#111" stroke-width="0.2">Impedance of whole body</text>
<text x="590.30" y="320.68" font-size="7.1" fill="#111" stroke="#111" stroke-width="0.2">Leg fat-free mass (left)</text>
<text x="590.30" y="341.88" font-size="7.1" fill="#111" stroke="#111" stroke-width="0.2">Total protein</text>
<text x="590.30" y="363.28" font-size="7.1" fill="#111" stroke="#111" stroke-width="0.2">Leg fat-free mass (right)</text>
<text x="590.30" y="384.78" font-size="7.1" fill="#111" stroke="#111" stroke-width="0.2">Total concentration of BCAAs</text>
<text x="590.30" y="409.38" font-size="7.1" fill="#111" stroke="#111" stroke-width="0.2">Trunk fat-free mass</text>
<text x="590.30" y="436.48" font-size="7.1" fill="#111" stroke="#111" stroke-width="0.2">Usual walking pace</text>
<text x="590.30" y="461.38" font-size="7.1" fill="#111" stroke="#111" stroke-width="0.2">Whole body fat-free mass</text>
<text x="590.30" y="487.98" font-size="7.1" fill="#111" stroke="#111" stroke-width="0.2">Valine</text>
<text x="-0.60" y="543.90" font-size="13.5" font-weight="bold" fill="#111">c</text>
<text x="58.30" y="559.45" font-size="8.5" fill="#1a1a1a" stroke="#1a1a1a" stroke-width="0.12">% SMI  <tspan font-style="italic">P</tspan> &lt; 0.0001, <tspan font-style="italic">R</tspan><tspan font-size="5.78" dy="-3.3">2</tspan><tspan dy="3.3"> = 0.65</tspan></text>
<text x="58.30" y="571.25" font-size="8.5" fill="#1a1a1a" stroke="#1a1a1a" stroke-width="0.12">% Grip strength  <tspan font-style="italic">P</tspan> = 0.0002, <tspan font-style="italic">R</tspan><tspan font-size="5.78" dy="-3.3">2</tspan><tspan dy="3.3"> = 0.21</tspan></text>
<text x="51.20" y="672.56" text-anchor="end" font-size="8.5" fill="#1a1a1a" stroke="#1a1a1a" stroke-width="0.12">0</text>
<text x="54.40" y="681.85" text-anchor="middle" font-size="8.5" fill="#1a1a1a" stroke="#1a1a1a" stroke-width="0.12">0</text>
<text x="51.20" y="654.30" text-anchor="end" font-size="8.5" fill="#1a1a1a" stroke="#1a1a1a" stroke-width="0.12">20</text>
<text x="72.74" y="681.84" text-anchor="middle" font-size="8.5" fill="#1a1a1a" stroke="#1a1a1a" stroke-width="0.12">20</text>
<text x="51.20" y="636.04" text-anchor="end" font-size="8.5" fill="#1a1a1a" stroke="#1a1a1a" stroke-width="0.12">40</text>
<text x="91.08" y="681.82" text-anchor="middle" font-size="8.5" fill="#1a1a1a" stroke="#1a1a1a" stroke-width="0.12">40</text>
<text x="51.20" y="617.78" text-anchor="end" font-size="8.5" fill="#1a1a1a" stroke="#1a1a1a" stroke-width="0.12">60</text>
<text x="109.42" y="681.80" text-anchor="middle" font-size="8.5" fill="#1a1a1a" stroke="#1a1a1a" stroke-width="0.12">60</text>
<text x="51.20" y="599.52" text-anchor="end" font-size="8.5" fill="#1a1a1a" stroke="#1a1a1a" stroke-width="0.12">80</text>
<text x="127.76" y="681.79" text-anchor="middle" font-size="8.5" fill="#1a1a1a" stroke="#1a1a1a" stroke-width="0.12">80</text>
<text x="51.20" y="581.26" text-anchor="end" font-size="8.5" fill="#1a1a1a" stroke="#1a1a1a" stroke-width="0.12">100</text>
<text x="146.10" y="681.77" text-anchor="middle" font-size="8.5" fill="#1a1a1a" stroke="#1a1a1a" stroke-width="0.12">100</text>
<text x="108.80" y="696.71" text-anchor="middle" font-size="8.5" fill="#1a1a1a" stroke="#1a1a1a" stroke-width="0.12">% SMI or grip strength changes</text>
</g>
</svg></body></html>
